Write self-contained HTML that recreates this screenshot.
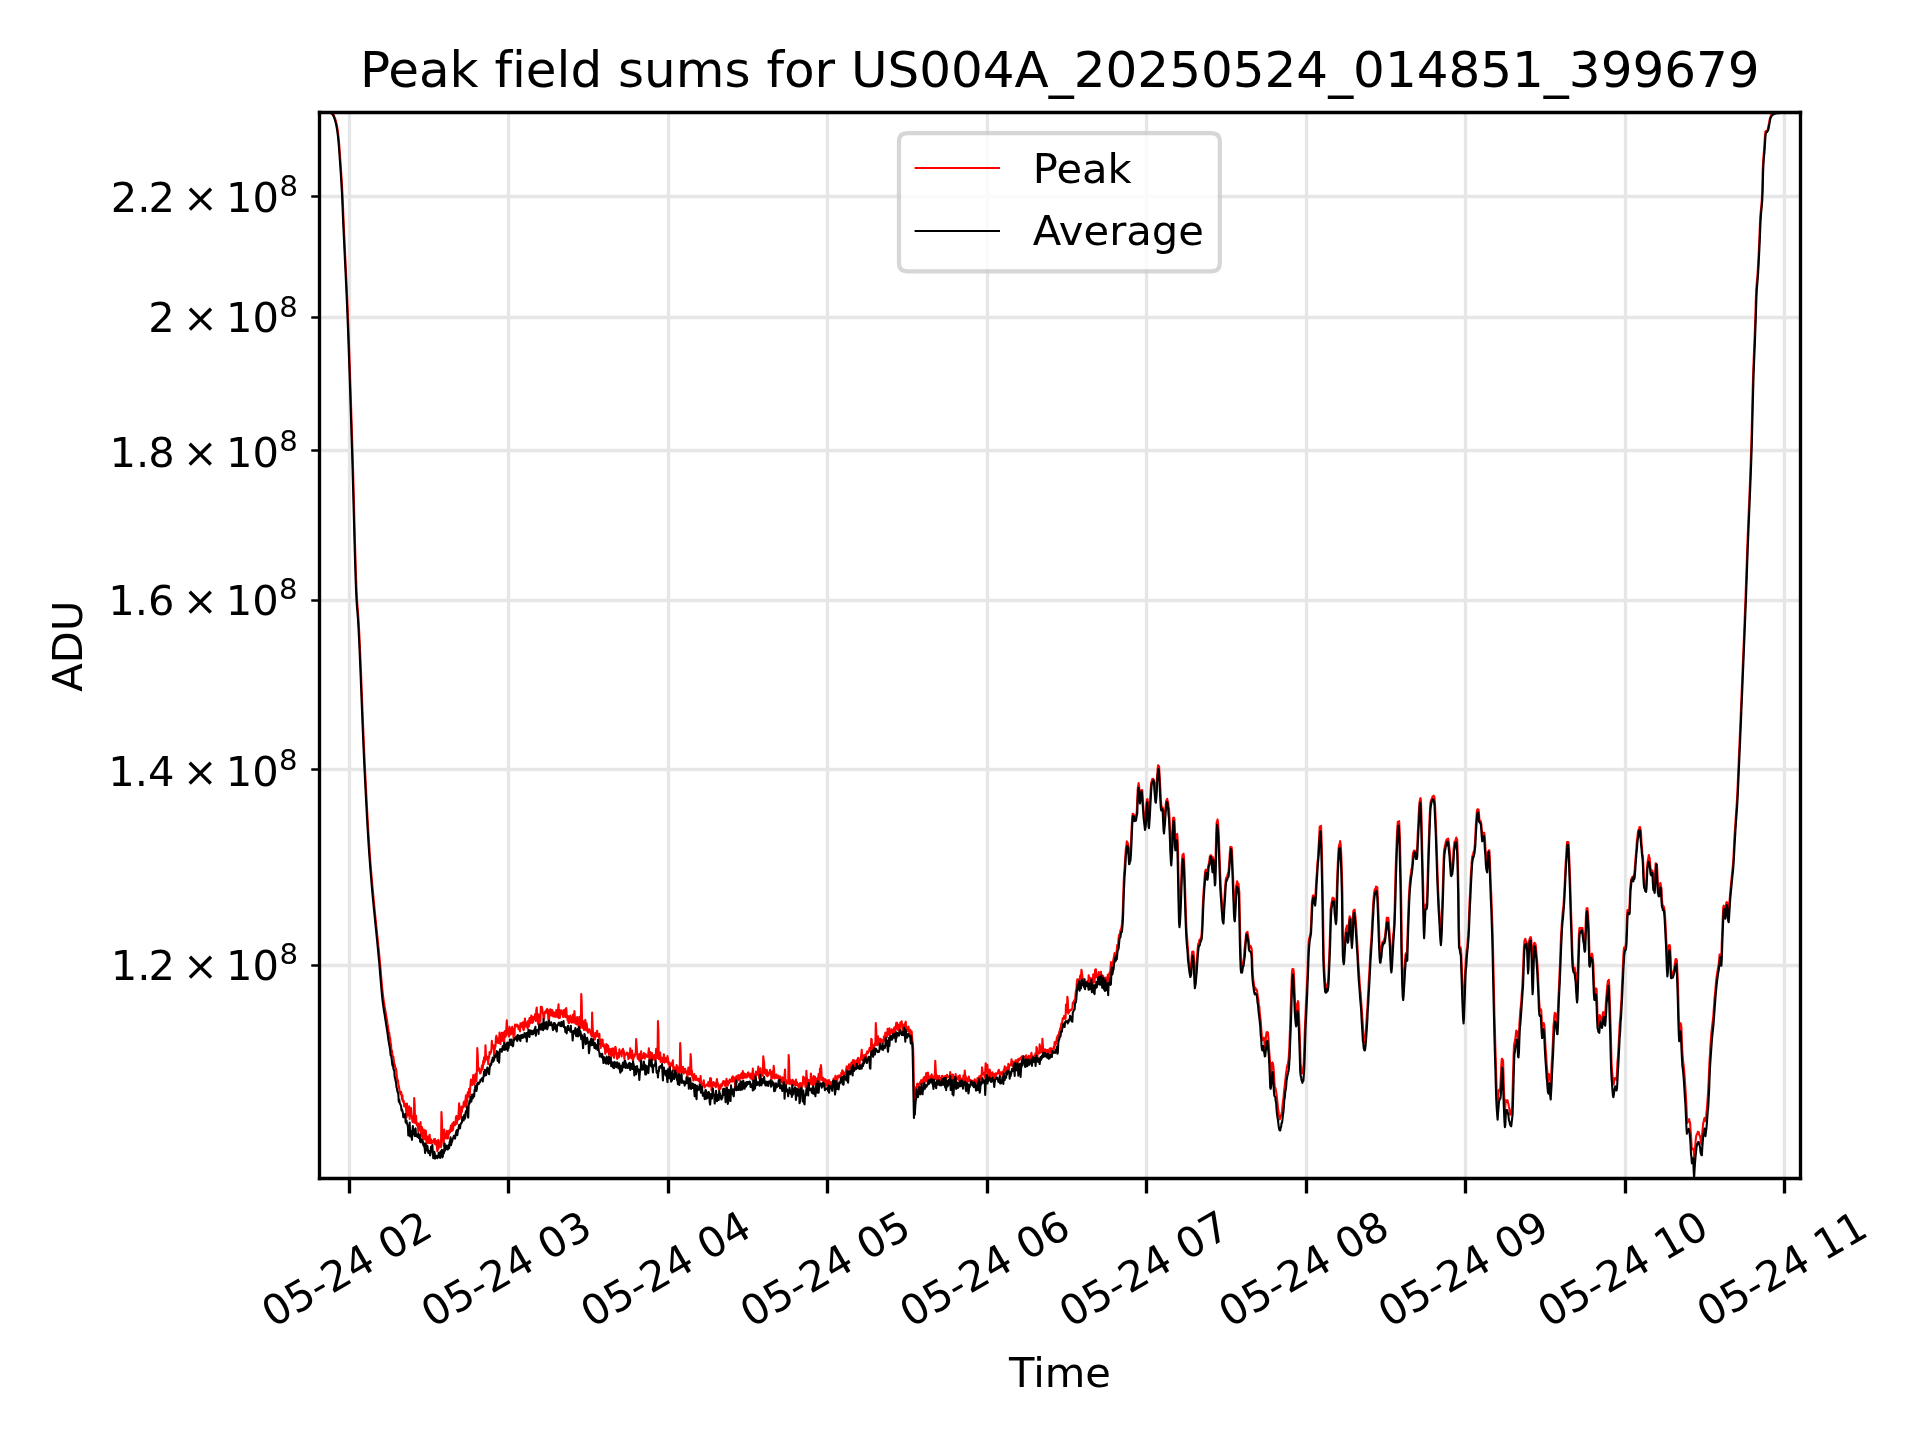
<!DOCTYPE html>
<html lang="en"><head><meta charset="utf-8"><title>Peak field sums for US004A_20250524_014851_399679</title>
<style>html,body{margin:0;padding:0;background:#fff;width:1920px;height:1440px;overflow:hidden}svg{display:block;will-change:transform}text{font-family:"DejaVu Sans","Liberation Sans",sans-serif;fill:#000;font-size:41.667px;font-variant-ligatures:none;font-feature-settings:"liga" 0,"clig" 0}.g{stroke:#e6e6e6;stroke-width:3.333;fill:none}.s{stroke:#000;stroke-width:3.333;stroke-linecap:square;fill:none}.t{stroke:#000;stroke-width:3.333;fill:none}.m{stroke:#000;stroke-width:2.5;fill:none}.c{fill:none;stroke-width:2.083;stroke-linejoin:round;stroke-linecap:square}.sup{font-size:29.167px}</style></head><body>
<svg width="1920" height="1440" viewBox="0 0 1920 1440">
<rect width="1920" height="1440" fill="#fff"/>
<defs><clipPath id="ax"><rect x="318.9" y="112.35" width="1481" height="1065.95"/></clipPath></defs>
<g class="g" clip-path="url(#ax)">
<path d="M349.5 112.5V1178.5"/>
<path d="M508.5 112.5V1178.5"/>
<path d="M668.5 112.5V1178.5"/>
<path d="M827.5 112.5V1178.5"/>
<path d="M987.5 112.5V1178.5"/>
<path d="M1146.5 112.5V1178.5"/>
<path d="M1306.5 112.5V1178.5"/>
<path d="M1465.5 112.5V1178.5"/>
<path d="M1625.5 112.5V1178.5"/>
<path d="M1784.5 112.5V1178.5"/>
<path d="M319.5 965.5H1800.5"/>
<path d="M319.5 769.5H1800.5"/>
<path d="M319.5 600.5H1800.5"/>
<path d="M319.5 450.5H1800.5"/>
<path d="M319.5 317.5H1800.5"/>
<path d="M319.5 196.5H1800.5"/>
</g>
<g clip-path="url(#ax)">
<path class="c" stroke="#f00" d="M318.9 112.9L319.35 112.9L319.81 112.9L320.26 112.9L320.72 112.9L321.17 112.9L321.62 112.9L322.08 112.9L322.53 112.9L322.98 112.9L323.44 112.9L323.89 112.9L324.35 112.9L324.8 112.9L325.25 112.9L325.71 112.9L326.16 112.9L326.62 112.9L327.07 112.9L327.52 112.9L327.98 112.9L328.43 112.9L328.89 112.9L329.34 112.9L329.79 112.9L330.25 112.9L330.7 112.9L331.15 112.9L331.61 112.9L332.06 113.18L332.52 113.53L332.97 113.87L333.42 114.43L333.88 115.38L334.33 116.56L334.79 117.69L335.24 118.93L335.69 120.44L336.15 122.2L336.6 124.17L337.06 126.44L337.51 129L337.96 132.34L338.42 136.2L338.87 140.59L339.32 145.83L339.78 152.17L340.23 158.46L340.69 165.09L341.14 171.73L341.59 178.79L342.05 186.36L342.5 194.71L342.96 205.32L343.41 216.54L343.86 226.9L344.32 236.63L344.77 246.26L345.22 255.8L345.68 265.33L346.13 274.63L346.59 284.57L347.04 294.66L347.49 304.72L347.95 315.93L348.4 327.55L348.86 339.92L349.31 352.65L349.76 365.89L350.22 379.55L350.67 393.37L351.13 407.31L351.58 421.44L352.03 435.68L352.49 449.9L352.94 465.08L353.39 481.39L353.85 498.63L354.3 515.85L354.76 533.41L355.21 550.15L355.66 565.38L356.12 578.95L356.57 591L357.03 599.8L357.48 605.84L357.93 611.54L358.39 617.62L358.84 625.18L359.3 633.89L359.75 643.21L360.2 653.25L360.66 663.6L361.11 674.84L361.56 686.46L362.02 698.12L362.47 709.45L362.93 721.03L363.38 732.48L363.83 742.99L364.29 753.39L364.74 763.45L365.2 772.65L365.65 781.5L366.1 790.06L366.56 799.2L367.01 807.51L367.46 816.19L367.92 824.11L368.37 831.92L368.83 839.37L369.28 846.14L369.73 852.95L370.19 859.21L370.64 864.99L371.1 870.89L371.55 876.02L372 881.65L372.46 886.67L372.91 891.41L373.37 896.45L373.82 901.1L374.27 905.72L374.73 910.41L375.18 915.1L375.63 919.25L376.09 923.76L376.54 927.81L377 932.56L377.45 937.21L377.9 941.6L378.36 946.04L378.81 950.39L379.27 954.96L379.72 959.94L380.17 964.62L380.63 969.88L381.08 975.75L381.53 980.62L381.99 986.33L382.44 990.23L382.9 994.76L383.35 997.88L383.8 1001.37L384.26 1003.98L384.71 1006.96L385.17 1009.51L385.62 1011.95L386.07 1014.9L386.53 1018.08L386.98 1019.86L387.44 1023.6L387.89 1026.02L388.34 1028.86L388.8 1033.56L389.25 1032.73L389.7 1036.8L390.16 1038.33L390.61 1042.45L391.07 1045.05L391.52 1052.41L391.97 1050.62L392.43 1054.96L392.88 1056.7L393.34 1056.5L393.79 1060.2L394.24 1064.46L394.7 1064.37L395.15 1066.8L395.61 1069.76L396.06 1068.56L396.51 1072.45L396.97 1077.38L397.42 1080.49L397.87 1079.99L398.33 1083.67L398.78 1086.33L399.24 1088.22L399.69 1092.02L400.14 1092.36L400.6 1094.17L401.05 1091.72L401.51 1094.09L401.96 1099.15L402.41 1095.28L402.87 1101.71L403.32 1100.28L403.77 1100.96L404.23 1106.38L404.68 1103.41L405.14 1103.82L405.59 1105.35L406.04 1108.56L406.5 1117.83L406.95 1103.54L407.41 1110.92L407.86 1111.03L408.31 1115.55L408.77 1112.18L409.22 1106.33L409.68 1118.97L410.13 1112.09L410.58 1110.38L411.04 1108.08L411.49 1114.14L411.94 1116.7L412.4 1121.64L412.85 1122.23L413.31 1118.29L413.76 1122.38L414.21 1098L414.67 1105.29L415.12 1123.02L415.58 1117.53L416.03 1115.64L416.48 1123.76L416.94 1125.42L417.39 1125.55L417.85 1123.24L418.3 1131.88L418.75 1125.4L419.21 1129.88L419.66 1124.15L420.11 1128.9L420.57 1122.06L421.02 1136.35L421.48 1129.63L421.93 1126.95L422.38 1132.01L422.84 1139.58L423.29 1134.54L423.75 1129.53L424.2 1132.68L424.65 1139.2L425.11 1130.87L425.56 1130.31L426.01 1131.57L426.47 1144.37L426.92 1136.85L427.38 1142.66L427.83 1136.59L428.28 1136.62L428.74 1143L429.19 1142.11L429.65 1134.67L430.1 1142.86L430.55 1143.22L431.01 1139.39L431.46 1142.5L431.92 1142.99L432.37 1140.8L432.82 1140.78L433.28 1140.79L433.73 1142.4L434.18 1139.13L434.64 1143.67L435.09 1139.01L435.55 1144.46L436 1144.08L436.45 1141.01L436.91 1147.45L437.36 1151.16L437.82 1149.02L438.27 1139.78L438.72 1148.48L439.18 1144.65L439.63 1143.42L440.09 1141.23L440.54 1142.84L440.99 1147.17L441.45 1112L441.9 1120.44L442.35 1138.78L442.81 1139.16L443.26 1142.09L443.72 1145.98L444.17 1129.42L444.62 1133.78L445.08 1136.83L445.53 1135.02L445.99 1138.41L446.44 1138.33L446.89 1130.91L447.35 1131.55L447.8 1138.56L448.25 1134.83L448.71 1134.82L449.16 1130.54L449.62 1130.22L450.07 1132.39L450.52 1128.33L450.98 1125.45L451.43 1128.58L451.89 1131.01L452.34 1123.56L452.79 1130.14L453.25 1128.2L453.7 1122.03L454.16 1124.37L454.61 1123.5L455.06 1125.16L455.52 1124.56L455.97 1116.91L456.42 1116.01L456.88 1123.63L457.33 1119.64L457.79 1119.94L458.24 1118.84L458.69 1111.59L459.15 1103.19L459.6 1119L460.06 1111.34L460.51 1115.9L460.96 1117.12L461.42 1106.45L461.87 1111.8L462.33 1108.34L462.78 1107.24L463.23 1107.36L463.69 1102.36L464.14 1101.57L464.59 1106.27L465.05 1105.83L465.5 1099.65L465.96 1095.34L466.41 1107.78L466.86 1102.29L467.32 1098.51L467.77 1092.34L468.23 1092.75L468.68 1094.51L469.13 1088.91L469.59 1096.94L470.04 1090.38L470.49 1084.77L470.95 1079.45L471.4 1082.93L471.86 1082.2L472.31 1084.96L472.76 1081.93L473.22 1074.94L473.67 1077.4L474.13 1080.89L474.58 1084.61L475.03 1077.6L475.49 1073.77L475.94 1076.61L476.4 1081.22L476.85 1073.03L477.3 1048L477.76 1055.27L478.21 1070.53L478.66 1070.01L479.12 1068.35L479.57 1069.79L480.03 1073.4L480.48 1073.26L480.93 1071.93L481.39 1071.02L481.84 1065.93L482.3 1065.13L482.75 1069.25L483.2 1060.91L483.66 1064.43L484.11 1057.26L484.57 1062.15L485.02 1060.41L485.47 1045.32L485.93 1053.88L486.38 1058.69L486.83 1059.47L487.29 1059.29L487.74 1056.92L488.2 1064.17L488.65 1056.46L489.1 1058.24L489.56 1051.95L490.01 1054.04L490.47 1053.43L490.92 1052.22L491.37 1049.86L491.83 1040.77L492.28 1046.75L492.73 1047.8L493.19 1046.86L493.64 1045.23L494.1 1055.22L494.55 1051.24L495 1046.81L495.46 1046.79L495.91 1037.85L496.37 1035.69L496.82 1037.93L497.27 1042.73L497.73 1038.75L498.18 1038.61L498.64 1042.89L499.09 1041.75L499.54 1032.59L500 1040.15L500.45 1044L500.9 1036.65L501.36 1039.44L501.81 1032.91L502.27 1040.78L502.72 1033.35L503.17 1032.48L503.63 1035.47L504.08 1044.79L504.54 1033.68L504.99 1030.98L505.44 1036.84L505.9 1035.66L506.35 1028.78L506.8 1020.26L507.26 1028.12L507.71 1032.4L508.17 1034.57L508.62 1034.17L509.07 1036.47L509.53 1026.91L509.98 1029L510.44 1031.17L510.89 1034.35L511.34 1032.74L511.8 1029.23L512.25 1026.79L512.71 1033.31L513.16 1033.26L513.61 1039.28L514.07 1028.67L514.52 1034.82L514.97 1024.44L515.43 1026.55L515.88 1025.81L516.34 1026.32L516.79 1024.6L517.24 1025.54L517.7 1027.04L518.15 1025.4L518.61 1029.13L519.06 1026.26L519.51 1026.34L519.97 1031.37L520.42 1023.25L520.88 1023.25L521.33 1025.49L521.78 1025.6L522.24 1027.24L522.69 1022.2L523.14 1028.93L523.6 1030.28L524.05 1028.64L524.51 1022.66L524.96 1018.62L525.41 1022.55L525.87 1024.49L526.32 1026.72L526.78 1023L527.23 1022.42L527.68 1028.71L528.14 1020.82L528.59 1026.78L529.04 1026.05L529.5 1018.01L529.95 1023.5L530.41 1020.38L530.86 1018.83L531.31 1015.47L531.77 1016.27L532.22 1023.03L532.68 1019.98L533.13 1022.06L533.58 1017.11L534.04 1019.44L534.49 1019.33L534.95 1014.56L535.4 1013.84L535.85 1020.89L536.31 1009.68L536.76 1007.55L537.21 1018.02L537.67 1020.36L538.12 1024.12L538.58 1014.3L539.03 1019.24L539.48 1024.17L539.94 1016.71L540.39 1021.31L540.85 1006.9L541.3 1009.83L541.75 1006.68L542.21 1008.67L542.66 1011.91L543.12 1013.84L543.57 1018.9L544.02 1018.75L544.48 1014.38L544.93 1011.82L545.38 1012.75L545.84 1010.55L546.29 1012.74L546.75 1012.48L547.2 1008.75L547.65 1012.67L548.11 1015.1L548.56 1021.87L549.02 1021.34L549.47 1009.84L549.92 1011.81L550.38 1009.2L550.83 1009.67L551.28 1015.56L551.74 1010.21L552.19 1010L552.65 1012.66L553.1 1016.34L553.55 1012.33L554.01 1012.31L554.46 1016.71L554.92 1015.16L555.37 1015.1L555.82 1016.8L556.28 1010.04L556.73 1014.28L557.19 1011.36L557.64 1017.09L558.09 1009.35L558.55 1004.38L559 1018.25L559.45 1009.7L559.91 1017.83L560.36 1014.63L560.82 1011.06L561.27 1010.36L561.72 1013.32L562.18 1014.47L562.63 1012.3L563.09 1016.88L563.54 1010.35L563.99 1015.36L564.45 1015.61L564.9 1009.44L565.36 1017.15L565.81 1012.01L566.26 1008.04L566.72 1014.74L567.17 1016.31L567.62 1020.44L568.08 1015.93L568.53 1022.87L568.99 1022.99L569.44 1022.05L569.89 1017.42L570.35 1015.44L570.8 1017.07L571.26 1021.39L571.71 1022.69L572.16 1020.41L572.62 1018.97L573.07 1014.67L573.52 1022.53L573.98 1021.64L574.43 1011.1L574.89 1017.11L575.34 1023.54L575.79 1020.93L576.25 1024.19L576.7 1024.32L577.16 1016.96L577.61 1021.19L578.06 1024.09L578.52 1025.8L578.97 1027.72L579.43 1016.67L579.88 1023.21L580.33 1026.12L580.79 1028.11L581.24 994L581.69 1002.2L582.15 1023.52L582.6 1021.51L583.06 1028.14L583.51 1021.21L583.96 1030.03L584.42 1029.56L584.87 1028.42L585.33 1019.83L585.78 1025.28L586.23 1030.5L586.69 1023.61L587.14 1028.01L587.6 1028.88L588.05 1032.65L588.5 1031.02L588.96 1031.39L589.41 1029.38L589.86 1031.26L590.32 1031.15L590.77 1034.39L591.23 1031.65L591.68 1036.03L592.13 1012.65L592.59 1025.56L593.04 1032.8L593.5 1037.42L593.95 1034.18L594.4 1037.03L594.86 1039.45L595.31 1032.87L595.76 1035.3L596.22 1034.79L596.67 1036.4L597.13 1030.67L597.58 1035.92L598.03 1036.1L598.49 1034.87L598.94 1037.54L599.4 1033.84L599.85 1044.52L600.3 1042.26L600.76 1047.97L601.21 1039.71L601.67 1039.6L602.12 1045.21L602.57 1039.44L603.03 1046.28L603.48 1043.69L603.93 1045.37L604.39 1047.74L604.84 1047.46L605.3 1053.83L605.75 1050.14L606.2 1044.16L606.66 1051.97L607.11 1044.68L607.57 1049.69L608.02 1045.64L608.47 1047.33L608.93 1054.66L609.38 1048.88L609.84 1048.95L610.29 1049.58L610.74 1050.77L611.2 1056.84L611.65 1048.7L612.1 1048.87L612.56 1055.11L613.01 1048.39L613.47 1052.67L613.92 1057.77L614.37 1054.34L614.83 1052.97L615.28 1046.9L615.74 1047.42L616.19 1052.9L616.64 1055.31L617.1 1058.92L617.55 1058.09L618 1053.23L618.46 1052.76L618.91 1057.36L619.37 1049.39L619.82 1053.83L620.27 1054.23L620.73 1051.77L621.18 1052.18L621.64 1056.47L622.09 1050.16L622.54 1052.54L623 1048.82L623.45 1052.08L623.91 1051.2L624.36 1058.98L624.81 1054.62L625.27 1054.81L625.72 1054.52L626.17 1053.58L626.63 1052.66L627.08 1054.63L627.54 1052.67L627.99 1055.53L628.44 1059.03L628.9 1053.77L629.35 1058.01L629.81 1056.19L630.26 1048.18L630.71 1054.42L631.17 1051.7L631.62 1058.43L632.07 1050.42L632.53 1055.16L632.98 1060.91L633.44 1058.48L633.89 1054.96L634.34 1056.8L634.8 1055.84L635.25 1053.45L635.71 1053.72L636.16 1039L636.61 1044.97L637.07 1051.92L637.52 1057.14L637.98 1058.95L638.43 1057.78L638.88 1054.44L639.34 1060.66L639.79 1053.86L640.24 1059.5L640.7 1062.36L641.15 1051.35L641.61 1058.24L642.06 1058.37L642.51 1058.06L642.97 1055.02L643.42 1056.33L643.88 1053.01L644.33 1057.53L644.78 1058.66L645.24 1055L645.69 1054.15L646.15 1055.43L646.6 1056.74L647.05 1056.87L647.51 1056.32L647.96 1056.76L648.41 1052.62L648.87 1048.37L649.32 1058.21L649.78 1060.53L650.23 1052.13L650.68 1054.31L651.14 1057.13L651.59 1052.79L652.05 1053.14L652.5 1060L652.95 1056.08L653.41 1057.47L653.86 1057.48L654.31 1055.02L654.77 1059.86L655.22 1058.2L655.68 1059.29L656.13 1048.84L656.58 1054.37L657.04 1053.52L657.49 1057.85L657.95 1021L658.4 1030.87L658.85 1059.14L659.31 1055.76L659.76 1057.71L660.22 1052.56L660.67 1061.98L661.12 1059.32L661.58 1057.64L662.03 1059.08L662.48 1058.97L662.94 1062.3L663.39 1058.95L663.85 1054.18L664.3 1057.91L664.75 1062.58L665.21 1060.67L665.66 1057.97L666.12 1061.27L666.57 1060.19L667.02 1062.07L667.48 1056.16L667.93 1058.71L668.39 1063.85L668.84 1061.85L669.29 1064.11L669.75 1069.37L670.2 1063.29L670.65 1065.4L671.11 1063.51L671.56 1063.68L672.02 1065.61L672.47 1061.91L672.92 1060.32L673.38 1070.72L673.83 1066.73L674.29 1070.57L674.74 1067.92L675.19 1068.25L675.65 1070.01L676.1 1070.39L676.55 1065.03L677.01 1072.28L677.46 1066.17L677.92 1069.81L678.37 1076.87L678.82 1069.88L679.28 1074.69L679.73 1069.03L680.19 1043L680.64 1051.26L681.09 1071.79L681.55 1068.26L682 1068.24L682.46 1072.04L682.91 1066.69L683.36 1068.94L683.82 1073.41L684.27 1069.92L684.72 1069.29L685.18 1068.81L685.63 1072.62L686.09 1071.31L686.54 1072.97L686.99 1072.17L687.45 1078.27L687.9 1071.83L688.36 1067.63L688.81 1073.85L689.26 1073.74L689.72 1074.41L690.17 1069.56L690.63 1054L691.08 1060.2L691.53 1074.96L691.99 1070.86L692.44 1077.19L692.89 1076.04L693.35 1080.55L693.8 1075.88L694.26 1073.94L694.71 1078.32L695.16 1075.75L695.62 1080.01L696.07 1076.1L696.53 1079.25L696.98 1079.34L697.43 1080.24L697.89 1079.16L698.34 1078.6L698.79 1081.06L699.25 1079.86L699.7 1082.27L700.16 1081.34L700.61 1075.95L701.06 1082.52L701.52 1086.96L701.97 1084.1L702.43 1085.19L702.88 1085.01L703.33 1082.56L703.79 1080.26L704.24 1086.56L704.7 1087.39L705.15 1086.09L705.6 1085.75L706.06 1085.72L706.51 1084.57L706.96 1085.49L707.42 1084.79L707.87 1085.73L708.33 1082.15L708.78 1083.1L709.23 1086.56L709.69 1084.01L710.14 1078.12L710.6 1085.41L711.05 1078.57L711.5 1090.56L711.96 1087.19L712.41 1087.08L712.87 1083.31L713.32 1082.01L713.77 1084.63L714.23 1085.31L714.68 1083.08L715.13 1085.71L715.59 1087.18L716.04 1086.9L716.5 1082.21L716.95 1078.96L717.4 1085.02L717.86 1083.06L718.31 1086.09L718.77 1089.36L719.22 1089.24L719.67 1085.29L720.13 1087.48L720.58 1088.86L721.03 1084.2L721.49 1084.69L721.94 1086.18L722.4 1083.52L722.85 1082.05L723.3 1081.19L723.76 1083.16L724.21 1081.23L724.67 1085.07L725.12 1081.73L725.57 1086.62L726.03 1085.76L726.48 1078.72L726.94 1085.1L727.39 1080.79L727.84 1085.62L728.3 1083.05L728.75 1081.32L729.2 1083.16L729.66 1079.54L730.11 1081.84L730.57 1081.82L731.02 1080.14L731.47 1081.44L731.93 1077.37L732.38 1081.53L732.84 1076.39L733.29 1081.32L733.74 1080.71L734.2 1081.17L734.65 1077.45L735.11 1087.29L735.56 1078L736.01 1078.87L736.47 1076.16L736.92 1082.08L737.37 1076.61L737.83 1080.53L738.28 1074.98L738.74 1078.32L739.19 1076.29L739.64 1079.78L740.1 1076.25L740.55 1074.53L741.01 1078.06L741.46 1073.36L741.91 1073.89L742.37 1078.55L742.82 1071.1L743.27 1078.28L743.73 1074.94L744.18 1073.4L744.64 1076.49L745.09 1077.45L745.54 1073.97L746 1074.99L746.45 1077.59L746.91 1077.36L747.36 1075.03L747.81 1072.95L748.27 1072.37L748.72 1073.25L749.18 1076.69L749.63 1076.33L750.08 1075.5L750.54 1078.44L750.99 1073.71L751.44 1073.43L751.9 1073.36L752.35 1079.64L752.81 1068.66L753.26 1075.08L753.71 1075.46L754.17 1074.36L754.62 1080.57L755.08 1077.32L755.53 1076.17L755.98 1071.54L756.44 1075.34L756.89 1072.91L757.34 1074.01L757.8 1074.41L758.25 1066.53L758.71 1070.75L759.16 1078.23L759.61 1076.57L760.07 1074.29L760.52 1068.38L760.98 1076.63L761.43 1076.59L761.88 1073.09L762.34 1072.3L762.79 1075.4L763.25 1056.3L763.7 1060L764.15 1063.19L764.61 1071.08L765.06 1073.65L765.51 1069.63L765.97 1073.63L766.42 1075.12L766.88 1070.13L767.33 1076.32L767.78 1072.35L768.24 1075.48L768.69 1074.68L769.15 1072.98L769.6 1072.94L770.05 1069.87L770.51 1072.78L770.96 1072.74L771.42 1079.49L771.87 1077.97L772.32 1071.66L772.78 1077.76L773.23 1076.38L773.68 1065.68L774.14 1070.02L774.59 1078.52L775.05 1075.03L775.5 1076.02L775.95 1077.41L776.41 1074.48L776.86 1077.84L777.32 1077.3L777.77 1075.85L778.22 1075.58L778.68 1078.87L779.13 1080.6L779.58 1079.32L780.04 1076.3L780.49 1080.85L780.95 1079.5L781.4 1080.85L781.85 1082.62L782.31 1077.24L782.76 1079.53L783.22 1078.51L783.67 1077.98L784.12 1085.98L784.58 1074.86L785.03 1069.45L785.49 1082.35L785.94 1079.9L786.39 1084.69L786.85 1082.01L787.3 1081.49L787.75 1082.51L788.21 1083.32L788.66 1055L789.12 1063.09L789.57 1082.33L790.02 1084.19L790.48 1079.86L790.93 1082.99L791.39 1082.76L791.84 1081.86L792.29 1085.24L792.75 1079.87L793.2 1082.44L793.66 1081.21L794.11 1085.05L794.56 1082.41L795.02 1083.87L795.47 1084.85L795.92 1079.59L796.38 1085.17L796.83 1082.01L797.29 1083.4L797.74 1083.84L798.19 1086.38L798.65 1086.24L799.1 1089.06L799.56 1084.85L800.01 1083.15L800.46 1083.13L800.92 1086.28L801.37 1088.87L801.82 1085.55L802.28 1083.15L802.73 1085.42L803.19 1076.56L803.64 1077.67L804.09 1082.58L804.55 1077.74L805 1082.92L805.46 1086.98L805.91 1084.63L806.36 1070.76L806.82 1077.89L807.27 1078.76L807.73 1088.63L808.18 1083.76L808.63 1079.97L809.09 1085.02L809.54 1080.77L809.99 1084.1L810.45 1082.52L810.9 1073.66L811.36 1079.31L811.81 1078.35L812.26 1084.99L812.72 1081.44L813.17 1078.38L813.63 1076.11L814.08 1084.61L814.53 1083.92L814.99 1076.77L815.44 1083.91L815.9 1079.93L816.35 1078.73L816.8 1078.89L817.26 1078.27L817.71 1082.42L818.16 1079.09L818.62 1074.02L819.07 1083.86L819.53 1080.83L819.98 1068.49L820.43 1071.85L820.89 1065L821.34 1069.2L821.8 1080.03L822.25 1079.85L822.7 1078.03L823.16 1077.81L823.61 1082.17L824.06 1080.15L824.52 1086.25L824.97 1079.07L825.43 1083.31L825.88 1081.81L826.33 1080.15L826.79 1085.6L827.24 1082.84L827.7 1080.59L828.15 1082.17L828.6 1085.53L829.06 1080.13L829.51 1086.34L829.97 1084.55L830.42 1082.08L830.87 1085.8L831.33 1086.51L831.78 1083.49L832.23 1082.18L832.69 1085.86L833.14 1084.68L833.6 1078.57L834.05 1079.92L834.5 1079.53L834.96 1078.69L835.41 1075.75L835.87 1081.02L836.32 1078.71L836.77 1078.37L837.23 1081.07L837.68 1076.08L838.14 1076.93L838.59 1077.36L839.04 1075.37L839.5 1075.75L839.95 1077.41L840.4 1075.23L840.86 1077.93L841.31 1072.71L841.77 1074.51L842.22 1070.34L842.67 1072.94L843.13 1071.18L843.58 1075.5L844.04 1073.67L844.49 1072.71L844.94 1075.35L845.4 1074.03L845.85 1071.99L846.3 1068.41L846.76 1066.33L847.21 1069.18L847.67 1068.1L848.12 1067.1L848.57 1067.57L849.03 1064.18L849.48 1070.91L849.94 1064.69L850.39 1065.43L850.84 1067.89L851.3 1062.66L851.75 1068.06L852.21 1067.79L852.66 1061.35L853.11 1060L853.57 1063.72L854.02 1060.33L854.47 1067.28L854.93 1063.98L855.38 1061.9L855.84 1061.21L856.29 1064.21L856.74 1065.98L857.2 1059.43L857.65 1060.67L858.11 1057.69L858.56 1062.81L859.01 1061.3L859.47 1065.67L859.92 1059.97L860.38 1058.91L860.83 1057.94L861.28 1054.3L861.74 1049.72L862.19 1060.12L862.64 1058.62L863.1 1056.55L863.55 1055.28L864.01 1059.29L864.46 1060.72L864.91 1055.13L865.37 1056.93L865.82 1059.25L866.28 1053.52L866.73 1053.93L867.18 1051.32L867.64 1053.29L868.09 1053L868.54 1051.78L869 1050.56L869.45 1048.14L869.91 1048.12L870.36 1048.38L870.81 1051.44L871.27 1038.85L871.72 1039.36L872.18 1049.68L872.63 1048.88L873.08 1045.33L873.54 1045.06L873.99 1047.43L874.45 1046.26L874.9 1043.08L875.35 1045.09L875.81 1023L876.26 1030L876.71 1041.54L877.17 1045.2L877.62 1043.91L878.08 1036.39L878.53 1041.6L878.98 1044.24L879.44 1038.96L879.89 1046.21L880.35 1038.91L880.8 1039.2L881.25 1040.32L881.71 1042.57L882.16 1041.91L882.61 1040.12L883.07 1043.18L883.52 1040.72L883.98 1036.24L884.43 1040.45L884.88 1039.29L885.34 1032.63L885.79 1037.04L886.25 1035.19L886.7 1037.39L887.15 1036.93L887.61 1028.83L888.06 1029.4L888.52 1034.58L888.97 1034.21L889.42 1028.19L889.88 1035.83L890.33 1033.15L890.78 1032.55L891.24 1032.74L891.69 1029.23L892.15 1030.98L892.6 1033.03L893.05 1032.69L893.51 1030.88L893.96 1028.82L894.42 1027.24L894.87 1031.85L895.32 1029.72L895.78 1027.22L896.23 1022.89L896.69 1025.56L897.14 1022.82L897.59 1029.83L898.05 1027.11L898.5 1024.68L898.95 1025.51L899.41 1031.93L899.86 1028.54L900.32 1022.45L900.77 1025.12L901.22 1022.47L901.68 1021.27L902.13 1025.65L902.59 1030.85L903.04 1028.87L903.49 1025.38L903.95 1024.49L904.4 1025.95L904.85 1028.05L905.31 1022.44L905.76 1021.72L906.22 1030.72L906.67 1027.28L907.12 1030.69L907.58 1027.84L908.03 1031.09L908.49 1026.6L908.94 1029.66L909.39 1032.75L909.85 1032.3L910.3 1029.78L910.76 1034.06L911.21 1031.69L911.66 1031.34L912.12 1037.69L912.57 1042.51L913.02 1045.64L913.48 1059.73L913.93 1092.12L914.39 1099.32L914.84 1094L915.29 1087.29L915.75 1094.03L916.2 1092.44L916.66 1090.34L917.11 1084.02L917.56 1083.61L918.02 1088.63L918.47 1087.36L918.93 1085.95L919.38 1083.61L919.83 1084.61L920.29 1081.9L920.74 1081.95L921.19 1080.16L921.65 1082.35L922.1 1080.3L922.56 1083.1L923.01 1082.14L923.46 1078.13L923.92 1084.02L924.37 1076.69L924.83 1080.09L925.28 1081.3L925.73 1081.52L926.19 1073.06L926.64 1080.47L927.09 1080.85L927.55 1081.28L928 1072.56L928.46 1076.21L928.91 1077.58L929.36 1076.77L929.82 1081L930.27 1076.22L930.73 1080.74L931.18 1079.17L931.63 1074.39L932.09 1075.49L932.54 1076.73L933 1078.08L933.45 1080.21L933.9 1077.42L934.36 1080.02L934.81 1074.13L935.26 1060.82L935.72 1069.22L936.17 1078.96L936.63 1077.02L937.08 1075.48L937.53 1078.89L937.99 1082.48L938.44 1077.65L938.9 1076.17L939.35 1075.89L939.8 1082.57L940.26 1077.81L940.71 1079.36L941.17 1080.81L941.62 1080.46L942.07 1075.69L942.53 1080.13L942.98 1079.83L943.43 1078.95L943.89 1080.14L944.34 1076.36L944.8 1077.46L945.25 1076.34L945.7 1079.32L946.16 1075.91L946.61 1078.33L947.07 1074.73L947.52 1076.98L947.97 1076.34L948.43 1076.87L948.88 1077.4L949.33 1076.59L949.79 1076.45L950.24 1072L950.7 1079.5L951.15 1075.36L951.6 1076.22L952.06 1074.82L952.51 1079.14L952.97 1074.61L953.42 1077.96L953.87 1079.56L954.33 1080.67L954.78 1079.6L955.24 1078.28L955.69 1074.01L956.14 1079.97L956.6 1079.8L957.05 1079.04L957.5 1079.04L957.96 1077.42L958.41 1076.12L958.87 1080.01L959.32 1080.58L959.77 1075.22L960.23 1079.97L960.68 1078.51L961.14 1080.16L961.59 1078.84L962.04 1080.95L962.5 1080.87L962.95 1080.67L963.41 1075.43L963.86 1080.76L964.31 1079.04L964.77 1070.57L965.22 1076.17L965.67 1075.99L966.13 1081.42L966.58 1083.38L967.04 1078.26L967.49 1081.68L967.94 1080.64L968.4 1081.18L968.85 1076.52L969.31 1081.22L969.76 1080.16L970.21 1081.66L970.67 1080L971.12 1082.63L971.57 1080.76L972.03 1081.78L972.48 1083.46L972.94 1080.72L973.39 1082.69L973.84 1080.94L974.3 1081.69L974.75 1079.27L975.21 1082.38L975.66 1083.48L976.11 1080.44L976.57 1082.53L977.02 1081.7L977.48 1078.13L977.93 1081.57L978.38 1083.86L978.84 1079.5L979.29 1076.18L979.74 1080.41L980.2 1077.9L980.65 1079.61L981.11 1075.14L981.56 1077.46L982.01 1067.41L982.47 1070.42L982.92 1074.29L983.38 1073.03L983.83 1074.65L984.28 1072.71L984.74 1077.66L985.19 1071.86L985.65 1063.33L986.1 1064.11L986.55 1071.37L987.01 1072.58L987.46 1064.98L987.91 1078L988.37 1071.32L988.82 1074.82L989.28 1079.89L989.73 1069.66L990.18 1071.42L990.64 1077.68L991.09 1075.03L991.55 1073.36L992 1074.56L992.45 1072.39L992.91 1074.93L993.36 1078.13L993.81 1073.76L994.27 1074.98L994.72 1077.46L995.18 1079.29L995.63 1073.3L996.08 1075.37L996.54 1073.36L996.99 1073.18L997.45 1073.73L997.9 1073.13L998.35 1070.47L998.81 1069.72L999.26 1072.47L999.72 1074.27L1000.17 1076.54L1000.62 1072.2L1001.08 1072.74L1001.53 1074.34L1001.98 1074.18L1002.44 1071.83L1002.89 1071.59L1003.35 1075.67L1003.8 1070.13L1004.25 1069.36L1004.71 1066.3L1005.16 1070.67L1005.62 1068.62L1006.07 1073.26L1006.52 1067.63L1006.98 1069.9L1007.43 1069.79L1007.88 1071.07L1008.34 1063.83L1008.79 1070.18L1009.25 1066.25L1009.7 1065.68L1010.15 1064.91L1010.61 1064.42L1011.06 1064.24L1011.52 1059.32L1011.97 1065.63L1012.42 1064.29L1012.88 1061.64L1013.33 1063.4L1013.79 1068.59L1014.24 1063.84L1014.69 1061.76L1015.15 1066.35L1015.6 1060.24L1016.05 1061.45L1016.51 1060.24L1016.96 1060.7L1017.42 1062.67L1017.87 1062.06L1018.32 1058.76L1018.78 1059.9L1019.23 1060.15L1019.69 1058.77L1020.14 1059.4L1020.59 1057.59L1021.05 1057.35L1021.5 1058.95L1021.96 1056.26L1022.41 1059.44L1022.86 1057.84L1023.32 1055.99L1023.77 1056.54L1024.22 1056.69L1024.68 1057.28L1025.13 1057.77L1025.59 1056.88L1026.04 1055.21L1026.49 1060.39L1026.95 1059.04L1027.4 1057.07L1027.86 1058.87L1028.31 1057.3L1028.76 1055.81L1029.22 1056.46L1029.67 1062.28L1030.12 1058.28L1030.58 1058.25L1031.03 1054.8L1031.49 1052.81L1031.94 1057.33L1032.39 1056.29L1032.85 1057.64L1033.3 1057.94L1033.76 1056.39L1034.21 1058.4L1034.66 1055.17L1035.12 1055.65L1035.57 1052.93L1036.03 1060.33L1036.48 1047.14L1036.93 1048.1L1037.39 1057.06L1037.84 1052.6L1038.29 1053.58L1038.75 1051.66L1039.2 1053.38L1039.66 1044.37L1040.11 1047.97L1040.56 1052.65L1041.02 1051.46L1041.47 1052.02L1041.93 1052.28L1042.38 1038.71L1042.83 1044.22L1043.29 1053.59L1043.74 1052.37L1044.2 1049.52L1044.65 1052.93L1045.1 1049.22L1045.56 1052.07L1046.01 1051.7L1046.46 1050.38L1046.92 1049.85L1047.37 1050.03L1047.83 1055.05L1048.28 1050.65L1048.73 1050.65L1049.19 1052.6L1049.64 1048.47L1050.1 1050L1050.55 1048.33L1051 1048.4L1051.46 1055.5L1051.91 1049.71L1052.36 1049.06L1052.82 1049.5L1053.27 1050.48L1053.73 1046.8L1054.18 1048.41L1054.63 1042L1055.09 1042.97L1055.54 1045.14L1056 1042.92L1056.45 1041.12L1056.9 1037.29L1057.36 1040.53L1057.81 1035.26L1058.27 1035.15L1058.72 1036.53L1059.17 1031.85L1059.63 1031.62L1060.08 1028.69L1060.53 1028.29L1060.99 1025.65L1061.44 1023.28L1061.9 1024.49L1062.35 1020.81L1062.8 1018.09L1063.26 1018.57L1063.71 1019.02L1064.17 1015.92L1064.62 1018.02L1065.07 1017.4L1065.53 1018.83L1065.98 1004.59L1066.44 1007.96L1066.89 1011.96L1067.34 996.7L1067.8 1000.34L1068.25 1013.61L1068.7 1012.46L1069.16 1011.88L1069.61 1010.55L1070.07 1010.16L1070.52 1010.54L1070.97 1010.12L1071.43 1009.41L1071.88 1009.05L1072.34 1008.49L1072.79 1002.64L1073.24 1003.53L1073.7 1002.83L1074.15 1000.34L1074.6 1002.21L1075.06 999.75L1075.51 994.47L1075.97 990.43L1076.42 989.29L1076.87 982.04L1077.33 979.36L1077.78 981.16L1078.24 979.57L1078.69 982.74L1079.14 979.34L1079.6 980.65L1080.05 976.4L1080.51 975.2L1080.96 978.47L1081.41 969.78L1081.87 972.12L1082.32 975.84L1082.77 979.57L1083.23 978.79L1083.68 983.39L1084.14 979.81L1084.59 983.42L1085.04 987.65L1085.5 982.85L1085.95 983.67L1086.41 982.24L1086.86 981.43L1087.31 981.52L1087.77 980.82L1088.22 984.22L1088.68 975.19L1089.13 979.7L1089.58 982.79L1090.04 977.77L1090.49 980.24L1090.94 978.27L1091.4 982.07L1091.85 983.49L1092.31 985.42L1092.76 981.97L1093.21 974.23L1093.67 977.51L1094.12 980.42L1094.58 982.45L1095.03 969.75L1095.48 977.39L1095.94 969.32L1096.39 977.23L1096.84 975.87L1097.3 975.8L1097.75 977.07L1098.21 975.4L1098.66 971.95L1099.11 975.43L1099.57 978.55L1100.02 974.54L1100.48 975.5L1100.93 971.9L1101.38 980.44L1101.84 975.49L1102.29 975.33L1102.75 976.93L1103.2 976.12L1103.65 978.68L1104.11 984.23L1104.56 982.95L1105.01 985.28L1105.47 985.48L1105.92 977.42L1106.38 981.88L1106.83 985.12L1107.28 987.58L1107.74 974.95L1108.19 974.67L1108.65 980.49L1109.1 976.6L1109.55 972.65L1110.01 975.1L1110.46 968.94L1110.92 962.05L1111.37 966.71L1111.82 965.11L1112.28 964.85L1112.73 964.11L1113.18 960.75L1113.64 958.46L1114.09 956.28L1114.55 953.04L1115 954.39L1115.45 955.82L1115.91 953.67L1116.36 954.34L1116.82 949.06L1117.27 944.88L1117.72 946L1118.18 943.46L1118.63 938.08L1119.08 934.93L1119.54 934.64L1119.99 933.52L1120.45 930.18L1120.9 929.82L1121.35 927.8L1121.81 925.18L1122.26 920.98L1122.72 912.04L1123.17 897.76L1123.62 884.31L1124.08 873.45L1124.53 869.72L1124.99 860.34L1125.44 854.6L1125.89 848.29L1126.35 845.38L1126.8 841.39L1127.25 842.68L1127.71 842.65L1128.16 844.39L1128.62 848.03L1129.07 855.4L1129.52 861.28L1129.98 860.12L1130.43 852.66L1130.89 845.65L1131.34 834.33L1131.79 824.72L1132.25 816.93L1132.7 813.71L1133.15 813.86L1133.61 814.21L1134.06 814.78L1134.52 817.07L1134.97 817.51L1135.42 818.22L1135.88 816.45L1136.33 815.03L1136.79 811.01L1137.24 799.9L1137.69 789.2L1138.15 786.05L1138.6 783.06L1139.06 785.9L1139.51 790.64L1139.96 797.16L1140.42 792.94L1140.87 790.44L1141.32 790.41L1141.78 790.1L1142.23 789.99L1142.69 796.16L1143.14 803.74L1143.59 810.41L1144.05 815.22L1144.5 819.89L1144.96 824.72L1145.41 822.41L1145.86 813.5L1146.32 804.1L1146.77 800.42L1147.23 799.02L1147.68 799.5L1148.13 806.47L1148.59 817.05L1149.04 821L1149.49 811.63L1149.95 804.8L1150.4 794.99L1150.86 786.85L1151.31 782.44L1151.76 780.79L1152.22 779.14L1152.67 780.84L1153.13 778.72L1153.58 779.99L1154.03 780.98L1154.49 782.66L1154.94 789.52L1155.39 795.37L1155.85 796.91L1156.3 788.91L1156.76 780.44L1157.21 774.89L1157.66 768.7L1158.12 765.19L1158.57 766.77L1159.03 766.19L1159.48 772.74L1159.93 780.65L1160.39 788.73L1160.84 798.64L1161.3 805.29L1161.75 807.51L1162.2 807.09L1162.66 807.74L1163.11 808.3L1163.56 817.44L1164.02 826.25L1164.47 822.7L1164.93 816.12L1165.38 808.8L1165.83 803.36L1166.29 800.25L1166.74 800.25L1167.2 798.8L1167.65 801.23L1168.1 802.2L1168.56 806.47L1169.01 808.69L1169.47 816.87L1169.92 827.76L1170.37 836.76L1170.83 851.55L1171.28 858.21L1171.73 847.64L1172.19 835.2L1172.64 826.28L1173.1 817.91L1173.55 817.8L1174 817.5L1174.46 819.55L1174.91 832.84L1175.37 843.68L1175.82 841.5L1176.27 835.08L1176.73 834.63L1177.18 833.83L1177.63 839.55L1178.09 853.83L1178.54 877.05L1179 901.99L1179.45 919.57L1179.9 915.95L1180.36 904.72L1180.81 891.31L1181.27 879.04L1181.72 865.39L1182.17 857.79L1182.63 854.67L1183.08 854.56L1183.54 853.67L1183.99 857.73L1184.44 867.51L1184.9 882.71L1185.35 897.08L1185.8 911.1L1186.26 923.8L1186.71 932.98L1187.17 938.33L1187.62 944.77L1188.07 949.39L1188.53 956.83L1188.98 961.99L1189.44 965.73L1189.89 969.26L1190.34 971.65L1190.8 970.83L1191.25 963.86L1191.71 956.71L1192.16 951.85L1192.61 951.46L1193.07 951.63L1193.52 951.77L1193.97 957.94L1194.43 967.58L1194.88 976.55L1195.34 979.68L1195.79 973.78L1196.24 968.84L1196.7 961.41L1197.15 956.15L1197.61 949.99L1198.06 944.11L1198.51 943.99L1198.97 942.62L1199.42 939.91L1199.87 940.49L1200.33 940.1L1200.78 937.96L1201.24 937.06L1201.69 932.8L1202.14 924.11L1202.6 911.13L1203.05 899.63L1203.51 892.69L1203.96 886.34L1204.41 879.88L1204.87 874.31L1205.32 870.57L1205.78 869.65L1206.23 869.78L1206.68 870.9L1207.14 873.91L1207.59 872.56L1208.04 867.74L1208.5 864.71L1208.95 862.97L1209.41 859.89L1209.86 856.17L1210.31 855.68L1210.77 855.05L1211.22 855.5L1211.68 856.48L1212.13 861.65L1212.58 863.39L1213.04 857.21L1213.49 859.23L1213.95 860.51L1214.4 864.06L1214.85 876.14L1215.31 867.95L1215.76 850.52L1216.21 832.61L1216.67 822.1L1217.12 821.4L1217.58 819.42L1218.03 822.87L1218.48 829.1L1218.94 837.05L1219.39 851.64L1219.85 863.36L1220.3 875.41L1220.75 885.73L1221.21 892.59L1221.66 899.28L1222.11 907L1222.57 913.34L1223.02 920.21L1223.48 915.96L1223.93 907.06L1224.38 899.15L1224.84 891.92L1225.29 885.18L1225.75 879.74L1226.2 877.61L1226.65 878.99L1227.11 877.51L1227.56 874.51L1228.02 872.94L1228.47 871.43L1228.92 867.16L1229.38 860.58L1229.83 852.86L1230.28 846.74L1230.74 847.52L1231.19 847.6L1231.65 847.2L1232.1 852.27L1232.55 862.98L1233.01 874.68L1233.46 886.57L1233.92 899.97L1234.37 909.2L1234.82 914.84L1235.28 904.5L1235.73 892.52L1236.19 885.49L1236.64 884.44L1237.09 881.24L1237.55 882.72L1238 884.8L1238.45 883.62L1238.91 887.66L1239.36 892.53L1239.82 915.66L1240.27 938.64L1240.72 953.12L1241.18 964.74L1241.63 969.41L1242.09 967.78L1242.54 965.57L1242.99 963.68L1243.45 960.73L1243.9 957.58L1244.35 951.27L1244.81 946.29L1245.26 943.37L1245.72 937.53L1246.17 933.09L1246.62 932.54L1247.08 932.82L1247.53 931.84L1247.99 936.1L1248.44 937.68L1248.89 941.72L1249.35 947.05L1249.8 945.51L1250.26 947.94L1250.71 946.12L1251.16 947.24L1251.62 948.64L1252.07 954.43L1252.52 967.69L1252.98 976.19L1253.43 981L1253.89 983.5L1254.34 986.72L1254.79 987.4L1255.25 989.86L1255.7 988.37L1256.16 990.2L1256.61 989.58L1257.06 990.57L1257.52 995.01L1257.97 998.05L1258.42 999.93L1258.88 1005.7L1259.33 1006.59L1259.79 1013.26L1260.24 1016.79L1260.69 1020.36L1261.15 1027.19L1261.6 1032.85L1262.06 1040.31L1262.51 1040.09L1262.96 1040.03L1263.42 1039.32L1263.87 1037.68L1264.33 1041.1L1264.78 1048.07L1265.23 1044.33L1265.69 1039.98L1266.14 1035.43L1266.59 1032.22L1267.05 1032.64L1267.5 1031.99L1267.96 1032.76L1268.41 1037.89L1268.86 1045.62L1269.32 1052.24L1269.77 1057.3L1270.23 1067.62L1270.68 1077.99L1271.13 1074.23L1271.59 1067.84L1272.04 1062.87L1272.5 1062.45L1272.95 1063.79L1273.4 1066.57L1273.86 1072.37L1274.31 1080.52L1274.76 1087.39L1275.22 1087.71L1275.67 1088.64L1276.13 1091.63L1276.58 1094.59L1277.03 1098.28L1277.49 1102.55L1277.94 1108.12L1278.4 1110.38L1278.85 1114.93L1279.3 1116.49L1279.76 1119.42L1280.21 1117.77L1280.66 1116.94L1281.12 1114.7L1281.57 1113.3L1282.03 1111.21L1282.48 1106.15L1282.93 1101.26L1283.39 1099.28L1283.84 1093.71L1284.3 1089.68L1284.75 1085.24L1285.2 1081.56L1285.66 1076.98L1286.11 1072.96L1286.57 1070.06L1287.02 1066.51L1287.47 1064.96L1287.93 1063.29L1288.38 1060.69L1288.83 1056.57L1289.29 1047.97L1289.74 1036.01L1290.2 1024.34L1290.65 1009.64L1291.1 997.01L1291.56 982.96L1292.01 971.59L1292.47 969.02L1292.92 969L1293.37 969.17L1293.83 972.41L1294.28 983.3L1294.74 995.43L1295.19 1007.55L1295.64 1011.68L1296.1 1017.35L1296.55 1009.55L1297 1003.94L1297.46 1003.73L1297.91 1001.05L1298.37 1002.63L1298.82 1013.06L1299.27 1022.95L1299.73 1033.33L1300.18 1048.18L1300.64 1064.45L1301.09 1066.84L1301.54 1070.74L1302 1073.56L1302.45 1073.19L1302.9 1071.3L1303.36 1067.92L1303.81 1061.22L1304.27 1048.81L1304.72 1033.8L1305.17 1020.57L1305.63 1012.1L1306.08 1000.9L1306.54 994.52L1306.99 983.02L1307.44 973.42L1307.9 959.22L1308.35 948.15L1308.81 940.95L1309.26 937.88L1309.71 936.83L1310.17 934.7L1310.62 932.04L1311.07 923L1311.53 910.88L1311.98 900.79L1312.44 898.49L1312.89 895.47L1313.34 895.66L1313.8 895.53L1314.25 896.27L1314.71 898.11L1315.16 899.53L1315.61 891.52L1316.07 884.13L1316.52 876.98L1316.98 871.13L1317.43 862.38L1317.88 859.46L1318.34 849.97L1318.79 843.57L1319.24 835.43L1319.7 826.55L1320.15 827.8L1320.61 828.84L1321.06 825.71L1321.51 838.83L1321.97 855.1L1322.42 876.9L1322.88 899.36L1323.33 929.76L1323.78 957.65L1324.24 967.41L1324.69 975.88L1325.14 983.74L1325.6 990.44L1326.05 988.45L1326.51 987.77L1326.96 986.1L1327.41 984.13L1327.87 982.74L1328.32 977.35L1328.78 966.44L1329.23 955.77L1329.68 943.14L1330.14 928.95L1330.59 909.95L1331.05 906.31L1331.5 903.17L1331.95 900.79L1332.41 898.22L1332.86 897.54L1333.31 898.36L1333.77 898.75L1334.22 898.6L1334.68 903.14L1335.13 910.57L1335.58 917.28L1336.04 916.06L1336.49 901.99L1336.95 885.24L1337.4 873.31L1337.85 861.77L1338.31 852.86L1338.76 847.09L1339.22 844.84L1339.67 843.61L1340.12 841.08L1340.58 843.61L1341.03 849.51L1341.48 860.27L1341.94 874.25L1342.39 891.62L1342.85 933.63L1343.3 953.18L1343.75 958.83L1344.21 950.06L1344.66 943.16L1345.12 937.44L1345.57 931.65L1346.02 928.31L1346.48 927.89L1346.93 925.5L1347.38 930.47L1347.84 934.78L1348.29 933.85L1348.75 925.23L1349.2 918.83L1349.65 916.27L1350.11 919.1L1350.56 917.87L1351.02 923.33L1351.47 932.83L1351.92 940.49L1352.38 930.84L1352.83 919.3L1353.29 911.17L1353.74 910.23L1354.19 909.85L1354.65 909.57L1355.1 913.73L1355.55 918.21L1356.01 923.73L1356.46 929.82L1356.92 937.07L1357.37 944.9L1357.82 953.28L1358.28 962.05L1358.73 968.49L1359.19 975.38L1359.64 982.87L1360.09 988.74L1360.55 992.44L1361 998.4L1361.46 1005.01L1361.91 1010.55L1362.36 1018.15L1362.82 1024.56L1363.27 1034.37L1363.72 1037.9L1364.18 1040.72L1364.63 1042.81L1365.09 1038.84L1365.54 1034.24L1365.99 1027.78L1366.45 1022.55L1366.9 1013.94L1367.36 1008.66L1367.81 999.29L1368.26 992.18L1368.72 982.09L1369.17 974.68L1369.62 966.87L1370.08 957.87L1370.53 949.4L1370.99 943.9L1371.44 937.95L1371.89 928.23L1372.35 919.05L1372.8 911.2L1373.26 901.85L1373.71 897.24L1374.16 892.59L1374.62 889.81L1375.07 888.91L1375.53 889.46L1375.98 886.46L1376.43 886.91L1376.89 886.93L1377.34 887.49L1377.79 897.26L1378.25 907.86L1378.7 919.43L1379.16 932.52L1379.61 945.15L1380.06 951.54L1380.52 956.52L1380.97 952.13L1381.43 948.42L1381.88 945.61L1382.33 942.38L1382.79 941.46L1383.24 941.54L1383.69 942.02L1384.15 939.16L1384.6 939.2L1385.06 935.59L1385.51 931.12L1385.96 927.23L1386.42 921.12L1386.87 917.66L1387.33 918.68L1387.78 917.95L1388.23 917.76L1388.69 921.19L1389.14 927.45L1389.6 933.44L1390.05 941.06L1390.5 950.24L1390.96 961.36L1391.41 966.07L1391.86 958.81L1392.32 949.47L1392.77 941.37L1393.23 933.92L1393.68 931.79L1394.13 922.75L1394.59 911L1395.04 893.82L1395.5 873.56L1395.95 860.75L1396.4 848.91L1396.86 836.9L1397.31 827.22L1397.77 821.85L1398.22 822.58L1398.67 821.76L1399.13 821.07L1399.58 828.88L1400.03 842.16L1400.49 863.73L1400.94 885.24L1401.4 912.21L1401.85 948.04L1402.3 966.87L1402.76 982.57L1403.21 991.43L1403.67 984.13L1404.12 975.27L1404.57 969.17L1405.03 961.42L1405.48 954.59L1405.93 953.01L1406.39 953.39L1406.84 955.67L1407.3 941.19L1407.75 928.69L1408.2 914.96L1408.66 902.52L1409.11 892.1L1409.57 885.94L1410.02 880.24L1410.47 876.14L1410.93 873.87L1411.38 869.32L1411.84 868.16L1412.29 864.49L1412.74 855.73L1413.2 852.79L1413.65 851.2L1414.1 850.48L1414.56 850.44L1415.01 850.92L1415.47 852.4L1415.92 854.01L1416.37 856.51L1416.83 854.13L1417.28 846.01L1417.74 833.14L1418.19 825.7L1418.64 815.17L1419.1 807.82L1419.55 801.99L1420.01 799.79L1420.46 797.97L1420.91 799.83L1421.37 811.99L1421.82 830.83L1422.27 851.18L1422.73 869.04L1423.18 885.77L1423.64 907.34L1424.09 924.74L1424.54 915.59L1425 907.52L1425.45 905.35L1425.91 904.36L1426.36 904.58L1426.81 902.87L1427.27 890.46L1427.72 873.77L1428.17 856.43L1428.63 843.94L1429.08 832.5L1429.54 818.26L1429.99 809.95L1430.44 803.03L1430.9 801.15L1431.35 799.4L1431.81 798.83L1432.26 797.31L1432.71 796.41L1433.17 796.38L1433.62 795.65L1434.08 796.3L1434.53 797.62L1434.98 803.76L1435.44 813.38L1435.89 824L1436.34 836.76L1436.8 849.12L1437.25 863.5L1437.71 877.69L1438.16 889.71L1438.61 898.81L1439.07 907.86L1439.52 915.92L1439.98 923.7L1440.43 931.87L1440.88 939.06L1441.34 929.35L1441.79 916.66L1442.25 901.98L1442.7 890.91L1443.15 874.2L1443.61 859.43L1444.06 851.03L1444.51 848.55L1444.97 845.35L1445.42 843.79L1445.88 841.26L1446.33 840.48L1446.78 839.31L1447.24 839.88L1447.69 840.41L1448.15 838.51L1448.6 840.61L1449.05 844.54L1449.51 848.85L1449.96 852.91L1450.41 859.93L1450.87 866.18L1451.32 872.51L1451.78 871.45L1452.23 868.61L1452.68 865.32L1453.14 858.87L1453.59 848.93L1454.05 845.8L1454.5 841.56L1454.95 841.56L1455.41 840.68L1455.86 838.76L1456.32 837.46L1456.77 838.91L1457.22 839.82L1457.68 853.17L1458.13 872.21L1458.58 891.81L1459.04 928.74L1459.49 946.83L1459.95 947.98L1460.4 947.11L1460.85 948.73L1461.31 953.61L1461.76 966.11L1462.22 980.15L1462.67 991.63L1463.12 1004.55L1463.58 1011.44L1464.03 999.5L1464.49 988.17L1464.94 974.64L1465.39 967.26L1465.85 959.21L1466.3 955.09L1466.75 949.28L1467.21 948.07L1467.66 940.78L1468.12 935.68L1468.57 928.05L1469.02 916.42L1469.48 902.48L1469.93 895.15L1470.39 885.91L1470.84 874.81L1471.29 868.35L1471.75 861.04L1472.2 856.87L1472.65 855.28L1473.11 853.83L1473.56 851.93L1474.02 853.41L1474.47 848.48L1474.92 842.78L1475.38 835.01L1475.83 825.16L1476.29 820.03L1476.74 812.92L1477.19 809.59L1477.65 809.22L1478.1 809.49L1478.56 809.54L1479.01 813.73L1479.46 820.09L1479.92 820.33L1480.37 820.76L1480.82 821.31L1481.28 823.75L1481.73 828.88L1482.19 835.59L1482.64 834.23L1483.09 833.66L1483.55 832.84L1484 832.54L1484.46 833.9L1484.91 838.17L1485.36 847.4L1485.82 853.42L1486.27 859.13L1486.73 866.6L1487.18 865.63L1487.63 857.2L1488.09 852.5L1488.54 851.05L1488.99 850.21L1489.45 850.74L1489.9 858.79L1490.36 871.94L1490.81 884.19L1491.26 894.08L1491.72 906.92L1492.17 918.57L1492.63 932.56L1493.08 951.57L1493.53 971.2L1493.99 991.78L1494.44 1014.61L1494.89 1029.04L1495.35 1046.77L1495.8 1059.9L1496.26 1076.43L1496.71 1091.81L1497.16 1100.41L1497.62 1103.52L1498.07 1098.11L1498.53 1092.11L1498.98 1089.88L1499.43 1090.4L1499.89 1091.08L1500.34 1086.05L1500.8 1077.96L1501.25 1066.15L1501.7 1059.22L1502.16 1058.72L1502.61 1060.26L1503.06 1060.17L1503.52 1073.68L1503.97 1090.97L1504.43 1100.31L1504.88 1112.58L1505.33 1105.79L1505.79 1100.29L1506.24 1101.43L1506.7 1100.38L1507.15 1101.66L1507.6 1100.27L1508.06 1103.16L1508.51 1104.09L1508.96 1106.9L1509.42 1109.1L1509.87 1114.09L1510.33 1114.78L1510.78 1114.82L1511.23 1113L1511.69 1109.92L1512.14 1106.7L1512.6 1090.39L1513.05 1074.03L1513.5 1057.69L1513.96 1046.01L1514.41 1042.66L1514.87 1041.2L1515.32 1038.5L1515.77 1035.3L1516.23 1030.51L1516.68 1031.64L1517.13 1031.66L1517.59 1033.35L1518.04 1040.27L1518.5 1044.08L1518.95 1033.77L1519.4 1024.64L1519.86 1016.79L1520.31 1010.68L1520.77 1006.85L1521.22 1001.58L1521.67 994.73L1522.13 988.72L1522.58 980.44L1523.04 970.02L1523.49 957.25L1523.94 946.96L1524.4 941.61L1524.85 939.79L1525.3 938.8L1525.76 940.62L1526.21 941.05L1526.67 942.35L1527.12 944.57L1527.57 946.45L1528.03 960.86L1528.48 949.89L1528.94 942.42L1529.39 939.7L1529.84 938.28L1530.3 937.29L1530.75 937.15L1531.2 939.05L1531.66 945.06L1532.11 957.66L1532.57 980.73L1533.02 967.34L1533.47 951.91L1533.93 943.85L1534.38 942.76L1534.84 943.05L1535.29 943.52L1535.74 945.19L1536.2 950.34L1536.65 956.06L1537.11 960.29L1537.56 966.4L1538.01 974.24L1538.47 984.98L1538.92 995.81L1539.37 1003.72L1539.83 1010.85L1540.28 1010.67L1540.74 1009.13L1541.19 1009.92L1541.64 1017.67L1542.1 1027.56L1542.55 1025.65L1543.01 1024.16L1543.46 1023.06L1543.91 1023.39L1544.37 1025.8L1544.82 1032.53L1545.28 1043.62L1545.73 1050.22L1546.18 1055.35L1546.64 1064.09L1547.09 1069.07L1547.54 1074.15L1548 1081.38L1548.45 1078.55L1548.91 1074.15L1549.36 1075.95L1549.81 1075.3L1550.27 1079.31L1550.72 1085.05L1551.18 1075.62L1551.63 1065.05L1552.08 1057.22L1552.54 1049.32L1552.99 1039.34L1553.44 1026.38L1553.9 1021.78L1554.35 1015.91L1554.81 1012.69L1555.26 1014.32L1555.71 1013.57L1556.17 1016.53L1556.62 1021.68L1557.08 1024.58L1557.53 1022.21L1557.98 1008.99L1558.44 997.5L1558.89 988.5L1559.35 977.11L1559.8 967.48L1560.25 956.85L1560.71 943.58L1561.16 933.14L1561.61 926.46L1562.07 920.7L1562.52 913.98L1562.98 909.33L1563.43 905.63L1563.88 899.28L1564.34 890.44L1564.79 881.69L1565.25 871.57L1565.7 862.17L1566.15 856.84L1566.61 847.81L1567.06 842.08L1567.52 841.92L1567.97 843.47L1568.42 842.19L1568.88 847.57L1569.33 859.34L1569.78 870.95L1570.24 882.87L1570.69 898.58L1571.15 913.66L1571.6 926.74L1572.05 940.31L1572.51 954.61L1572.96 961.97L1573.42 967.57L1573.87 968.43L1574.32 969.45L1574.78 967.86L1575.23 972.68L1575.68 972.72L1576.14 978.95L1576.59 987.23L1577.05 992.8L1577.5 981.79L1577.95 962.68L1578.41 949.92L1578.86 935.55L1579.32 928.97L1579.77 927.72L1580.22 928.22L1580.68 928.65L1581.13 927.88L1581.59 927.92L1582.04 930.25L1582.49 928.01L1582.95 931.98L1583.4 934.74L1583.85 939.96L1584.31 941.64L1584.76 946.58L1585.22 936.6L1585.67 923.11L1586.12 912.61L1586.58 908.27L1587.03 908.36L1587.49 908.13L1587.94 913.26L1588.39 919.74L1588.85 928.83L1589.3 947.44L1589.76 959.64L1590.21 955.18L1590.66 955.92L1591.12 954.59L1591.57 954.49L1592.02 953.65L1592.48 955.61L1592.93 959.44L1593.39 964.58L1593.84 978.65L1594.29 991.13L1594.75 993.37L1595.2 990.31L1595.66 988.38L1596.11 989.1L1596.56 988.9L1597.02 999.31L1597.47 1014.67L1597.92 1021.37L1598.38 1022.78L1598.83 1025.76L1599.29 1020.73L1599.74 1015.08L1600.19 1016.6L1600.65 1017.46L1601.1 1017.24L1601.56 1020.59L1602.01 1020.71L1602.46 1017.41L1602.92 1012.39L1603.37 1012.06L1603.83 1013.37L1604.28 1012.84L1604.73 1015.92L1605.19 1014.1L1605.64 1007.75L1606.09 999.01L1606.55 995L1607 988.24L1607.46 984.42L1607.91 980.74L1608.36 982.76L1608.82 979.85L1609.27 985.31L1609.73 999.53L1610.18 1012.77L1610.63 1026.23L1611.09 1045.63L1611.54 1062.32L1612 1071.01L1612.45 1074.48L1612.9 1081.26L1613.36 1084.55L1613.81 1084.28L1614.26 1079.27L1614.72 1078.02L1615.17 1079.02L1615.63 1079.09L1616.08 1078.93L1616.53 1080.27L1616.99 1071.57L1617.44 1062.04L1617.9 1057.48L1618.35 1049.8L1618.8 1041.4L1619.26 1032.69L1619.71 1023.89L1620.16 1018.62L1620.62 1012.78L1621.07 1004.88L1621.53 997.75L1621.98 986.06L1622.43 976.98L1622.89 966.55L1623.34 956.11L1623.8 949.39L1624.25 947.31L1624.7 947.22L1625.16 947.34L1625.61 945.66L1626.07 941.63L1626.52 929.69L1626.97 916.84L1627.43 910.22L1627.88 909.98L1628.33 909.91L1628.79 911.28L1629.24 910.25L1629.7 901.28L1630.15 888.6L1630.6 884L1631.06 880.14L1631.51 878.95L1631.97 877.23L1632.42 877.11L1632.87 877.33L1633.33 876.86L1633.78 875.63L1634.23 873.35L1634.69 869.64L1635.14 863.4L1635.6 857.44L1636.05 852.89L1636.5 846.22L1636.96 839.73L1637.41 837.13L1637.87 832.54L1638.32 830.13L1638.77 829.78L1639.23 828.15L1639.68 827L1640.14 827.07L1640.59 829.53L1641.04 833.7L1641.5 842.55L1641.95 847.79L1642.4 853.94L1642.86 855.78L1643.31 863.6L1643.77 874.38L1644.22 884.28L1644.67 884.6L1645.13 887.73L1645.58 887.93L1646.04 887.04L1646.49 878.06L1646.94 868.78L1647.4 863.58L1647.85 860.41L1648.31 858.03L1648.76 855.08L1649.21 857.3L1649.67 857.95L1650.12 863.45L1650.57 868.8L1651.03 870.76L1651.48 870.02L1651.94 870.93L1652.39 870.61L1652.84 873.18L1653.3 882.19L1653.75 887.21L1654.21 890.04L1654.66 885.79L1655.11 874.95L1655.57 863.52L1656.02 863.32L1656.47 863.84L1656.93 864.67L1657.38 872.01L1657.84 882.17L1658.29 890.63L1658.74 892.37L1659.2 893.63L1659.65 890.14L1660.11 883.18L1660.56 883.11L1661.01 886.4L1661.47 888.34L1661.92 899.17L1662.38 903.39L1662.83 906.32L1663.28 906.6L1663.74 906.31L1664.19 907.81L1664.64 910.48L1665.1 917.09L1665.55 925.54L1666.01 934.43L1666.46 943.42L1666.91 953.62L1667.37 965.98L1667.82 961.51L1668.28 952.83L1668.73 945.33L1669.18 945.7L1669.64 945.13L1670.09 946.55L1670.55 955.44L1671 967.25L1671.45 974.25L1671.91 976.81L1672.36 974.62L1672.81 973.53L1673.27 972.19L1673.72 970.72L1674.18 968.48L1674.63 965.46L1675.08 962.41L1675.54 959.13L1675.99 960.19L1676.45 959.29L1676.9 960.39L1677.35 971.39L1677.81 980.08L1678.26 995.41L1678.71 1015.01L1679.17 1028.45L1679.62 1032.1L1680.08 1023.88L1680.53 1023.11L1680.98 1024.09L1681.44 1027.93L1681.89 1042.17L1682.35 1051.47L1682.8 1057.25L1683.25 1062.13L1683.71 1065.73L1684.16 1070.94L1684.62 1076.14L1685.07 1083.22L1685.52 1089.92L1685.98 1097.91L1686.43 1105.98L1686.88 1116.93L1687.34 1122.99L1687.79 1121.79L1688.25 1119.92L1688.7 1120.15L1689.15 1119.18L1689.61 1121.97L1690.06 1122.31L1690.52 1130.07L1690.97 1134.3L1691.42 1143.33L1691.88 1149.54L1692.33 1148.36L1692.79 1149.38L1693.24 1149.36L1693.69 1148.73L1694.15 1159.71L1694.6 1154.68L1695.05 1148.68L1695.51 1142.49L1695.96 1137.48L1696.42 1135.29L1696.87 1134L1697.32 1134.18L1697.78 1131.86L1698.23 1132.75L1698.69 1132.06L1699.14 1133.96L1699.59 1135.66L1700.05 1136.08L1700.5 1138.65L1700.95 1142.37L1701.41 1144.38L1701.86 1137.8L1702.32 1132.43L1702.77 1127.52L1703.22 1123.28L1703.68 1121.59L1704.13 1119.11L1704.59 1117.89L1705.04 1119.81L1705.49 1121.1L1705.95 1120.75L1706.4 1113.78L1706.86 1108.56L1707.31 1103.51L1707.76 1097.28L1708.22 1089.25L1708.67 1080.92L1709.12 1069.11L1709.58 1060.11L1710.03 1053.27L1710.49 1044.93L1710.94 1038.73L1711.39 1033.08L1711.85 1028.53L1712.3 1024.54L1712.76 1021.07L1713.21 1017.21L1713.66 1010.81L1714.12 1004.62L1714.57 998.27L1715.03 993.67L1715.48 988.73L1715.93 982.98L1716.39 978.67L1716.84 975.43L1717.29 972.41L1717.75 969.62L1718.2 966.82L1718.66 964.16L1719.11 960.26L1719.56 954.54L1720.02 954.42L1720.47 954.36L1720.93 954.15L1721.38 956.28L1721.83 940.97L1722.29 929.74L1722.74 918.1L1723.19 907.72L1723.65 905.57L1724.1 906.12L1724.56 906.39L1725.01 909.96L1725.46 912.78L1725.92 906.87L1726.37 902.43L1726.83 902.14L1727.28 902.59L1727.73 905.49L1728.19 912.49L1728.64 915.06L1729.1 908.04L1729.55 900.82L1730 895.42L1730.46 889.87L1730.91 885.44L1731.36 880.16L1731.82 876.22L1732.27 871.91L1732.73 866.93L1733.18 861.32L1733.63 853.87L1734.09 844.58L1734.54 835.92L1735 828.85L1735.45 822.18L1735.9 815.38L1736.36 809.15L1736.81 802.3L1737.27 794.25L1737.72 784.61L1738.17 773.67L1738.63 763.6L1739.08 753.07L1739.53 742.71L1739.99 732.15L1740.44 721.56L1740.9 710.68L1741.35 699.88L1741.8 688.81L1742.26 678.05L1742.71 666.77L1743.17 655.94L1743.62 645.19L1744.07 633.98L1744.53 622.9L1744.98 611.15L1745.43 599.89L1745.89 587.1L1746.34 574.38L1746.8 561.3L1747.25 548.85L1747.7 536.72L1748.16 525.42L1748.61 514.5L1749.07 504.24L1749.52 493.26L1749.97 482.37L1750.43 470.65L1750.88 457.09L1751.34 443.04L1751.79 426.2L1752.24 407.73L1752.7 389.3L1753.15 373.53L1753.6 361.34L1754.06 350.79L1754.51 340.17L1754.97 327.71L1755.42 314.08L1755.87 298.75L1756.33 288.51L1756.78 282.49L1757.24 277.9L1757.69 271.83L1758.14 263.96L1758.6 255.33L1759.05 245.52L1759.5 235.26L1759.96 223.06L1760.41 214.86L1760.87 210.22L1761.32 205.83L1761.77 200.45L1762.23 190.1L1762.68 170.45L1763.14 161.06L1763.59 155L1764.04 149.87L1764.5 143.06L1764.95 136.02L1765.41 131.73L1765.86 131.16L1766.31 131.21L1766.77 131.05L1767.22 130.37L1767.67 129.67L1768.13 127.59L1768.58 125.28L1769.04 123.21L1769.49 120.48L1769.94 118.19L1770.4 117.01L1770.85 115.54L1771.31 115.05L1771.76 114.6L1772.21 113.86L1772.67 113.65L1773.12 113.36L1773.58 113.45L1774.03 113.17L1774.48 113.26L1774.94 113.17L1775.39 112.9L1775.84 112.9L1776.3 112.9L1776.75 112.9L1777.21 112.9L1777.66 112.9L1778.11 112.9L1778.57 112.9L1779.02 112.9L1779.48 112.9L1779.93 112.9L1780.38 112.9L1780.84 112.9L1781.29 112.9L1781.74 112.9L1782.2 112.9L1782.65 112.9L1783.11 112.9L1783.56 112.9L1784.01 112.9L1784.47 112.9L1784.92 112.9L1785.38 112.9L1785.83 112.9L1786.28 112.9L1786.74 112.9L1787.19 112.9L1787.65 112.9L1788.1 112.9L1788.55 112.9L1789.01 112.9L1789.46 112.9L1789.91 112.9L1790.37 112.9L1790.82 112.9L1791.28 112.9L1791.73 112.9L1792.18 112.9L1792.64 112.9L1793.09 112.9L1793.55 112.9L1794 112.9L1794.45 112.9L1794.91 112.9L1795.36 112.9L1795.82 112.9L1796.27 112.9L1796.72 112.9L1797.18 112.9L1797.63 112.9L1798.08 112.9L1798.54 112.9L1798.99 112.9L1799.45 112.9L1799.9 112.9"/>
<path class="c" stroke="#000" d="M318.9 112.9L319.35 112.9L319.81 112.9L320.26 112.9L320.72 112.9L321.17 112.9L321.62 112.9L322.08 112.92L322.53 112.9L322.98 112.9L323.44 112.91L323.89 112.91L324.35 112.9L324.8 112.9L325.25 112.9L325.71 112.92L326.16 112.9L326.62 112.9L327.07 112.9L327.52 112.9L327.98 112.9L328.43 112.9L328.89 112.9L329.34 112.91L329.79 112.92L330.25 113.01L330.7 113.09L331.15 113.39L331.61 113.7L332.06 114.02L332.52 114.34L332.97 115.04L333.42 115.93L333.88 117.02L334.33 118.31L334.79 119.49L335.24 121.01L335.69 122.78L336.15 124.69L336.6 126.97L337.06 129.64L337.51 132.95L337.96 136.74L338.42 141.2L338.87 146.69L339.32 152.72L339.78 159.26L340.23 165.63L340.69 172.22L341.14 179.45L341.59 187.04L342.05 195.38L342.5 205.96L342.96 217.34L343.41 227.58L343.86 237.54L344.32 247.1L344.77 256.61L345.22 266.08L345.68 275.42L346.13 285.21L346.59 295.2L347.04 305.77L347.49 316.75L347.95 328.54L348.4 340.88L348.86 353.77L349.31 367.01L349.76 380.35L350.22 394.24L350.67 408.42L351.13 422.35L351.58 436.75L352.03 451.03L352.49 466.31L352.94 482.67L353.39 499.76L353.85 517.25L354.3 534.57L354.76 551.39L355.21 566.64L355.66 580.47L356.12 592.22L356.57 601.22L357.03 607.65L357.48 612.87L357.93 618.96L358.39 626.52L358.84 635.31L359.3 644.68L359.75 654.73L360.2 665.51L360.66 676.51L361.11 688.12L361.56 699.58L362.02 711.29L362.47 722.57L362.93 734.08L363.38 744.74L363.83 755.11L364.29 765.13L364.74 774.19L365.2 783.33L365.65 792.52L366.1 800.85L366.56 809.45L367.01 817.92L367.46 826.04L367.92 833.71L368.37 841.11L368.83 848.26L369.28 854.8L369.73 860.77L370.19 866.88L370.64 872.64L371.1 878.01L371.55 883.56L372 888.57L372.46 893.9L372.91 898.68L373.37 903.45L373.82 908.04L374.27 912.73L374.73 916.98L375.18 921.63L375.63 926.37L376.09 930.43L376.54 935.43L377 939.52L377.45 944.52L377.9 948.88L378.36 953.88L378.81 958.59L379.27 963.24L379.72 968.87L380.17 974.33L380.63 979.6L381.08 985.06L381.53 990.34L381.99 995.05L382.44 999.72L382.9 1003.11L383.35 1006.57L383.8 1009.53L384.26 1012.49L384.71 1015.16L385.17 1018.44L385.62 1020.91L386.07 1024.17L386.53 1026.87L386.98 1029.62L387.44 1032.89L387.89 1035.84L388.34 1039.28L388.8 1042.05L389.25 1045.07L389.7 1047.03L390.16 1050.23L390.61 1055.21L391.07 1055.53L391.52 1057.6L391.97 1061.61L392.43 1065.36L392.88 1064.23L393.34 1068.21L393.79 1070.03L394.24 1070.78L394.7 1076.94L395.15 1078.32L395.61 1081.13L396.06 1082.49L396.51 1087.38L396.97 1088.34L397.42 1091.74L397.87 1092.35L398.33 1094.37L398.78 1101.69L399.24 1099.64L399.69 1103.16L400.14 1104.12L400.6 1104.77L401.05 1106.12L401.51 1110.38L401.96 1109.43L402.41 1111.12L402.87 1112.83L403.32 1117.18L403.77 1116.98L404.23 1117.22L404.68 1115.48L405.14 1113.99L405.59 1121.9L406.04 1122.85L406.5 1120.43L406.95 1123.31L407.41 1124.84L407.86 1125.79L408.31 1135.51L408.77 1130.45L409.22 1130.07L409.68 1122.64L410.13 1136.41L410.58 1134.65L411.04 1130.99L411.49 1134.63L411.94 1139.82L412.4 1131.63L412.85 1126.12L413.31 1134.06L413.76 1129.31L414.21 1132.83L414.67 1135.88L415.12 1129.23L415.58 1128.44L416.03 1135.88L416.48 1135.8L416.94 1135.51L417.39 1136.88L417.85 1134.84L418.3 1133.51L418.75 1137.95L419.21 1136.2L419.66 1134.85L420.11 1141.6L420.57 1140.57L421.02 1142.53L421.48 1139.18L421.93 1140.78L422.38 1140.47L422.84 1141.45L423.29 1145.19L423.75 1143.07L424.2 1146.96L424.65 1147.55L425.11 1152.94L425.56 1143.89L426.01 1150.91L426.47 1148.72L426.92 1149.46L427.38 1145.93L427.83 1149.16L428.28 1152.95L428.74 1151.01L429.19 1151.82L429.65 1151.13L430.1 1155.51L430.55 1152.58L431.01 1146.87L431.46 1151.4L431.92 1148.2L432.37 1144.97L432.82 1152.8L433.28 1158.23L433.73 1154.95L434.18 1151.84L434.64 1152.71L435.09 1158.59L435.55 1156.09L436 1155.92L436.45 1155.75L436.91 1156.07L437.36 1158.19L437.82 1157.49L438.27 1156.48L438.72 1152.92L439.18 1156.92L439.63 1153.42L440.09 1157.92L440.54 1151.18L440.99 1153.84L441.45 1153.77L441.9 1149.78L442.35 1157.49L442.81 1156.3L443.26 1150.65L443.72 1153.45L444.17 1151.9L444.62 1143.43L445.08 1150.58L445.53 1149.25L445.99 1149.09L446.44 1145.43L446.89 1146.96L447.35 1146.55L447.8 1149.49L448.25 1146.54L448.71 1144.93L449.16 1148.23L449.62 1142.02L450.07 1141.7L450.52 1137.22L450.98 1145.32L451.43 1142.99L451.89 1142.12L452.34 1140.74L452.79 1138.57L453.25 1138.13L453.7 1136.21L454.16 1135.63L454.61 1135.59L455.06 1138.63L455.52 1135.45L455.97 1133.14L456.42 1131.07L456.88 1130.19L457.33 1135.16L457.79 1131.58L458.24 1129.67L458.69 1127.81L459.15 1125.04L459.6 1126.84L460.06 1128.36L460.51 1124.24L460.96 1123.73L461.42 1122.78L461.87 1122.62L462.33 1117.31L462.78 1119.69L463.23 1117.07L463.69 1120.36L464.14 1115.12L464.59 1117.38L465.05 1118.63L465.5 1112.92L465.96 1111.08L466.41 1111.93L466.86 1110.32L467.32 1106.74L467.77 1116.41L468.23 1117.64L468.68 1105.06L469.13 1103.96L469.59 1100.64L470.04 1102.74L470.49 1097.64L470.95 1096.73L471.4 1101.34L471.86 1094.8L472.31 1098.48L472.76 1098.43L473.22 1094.29L473.67 1094.01L474.13 1096.45L474.58 1090.33L475.03 1088.48L475.49 1085.78L475.94 1088.29L476.4 1090.91L476.85 1088.85L477.3 1083.49L477.76 1082.92L478.21 1083L478.66 1084.15L479.12 1082.23L479.57 1082.5L480.03 1081.98L480.48 1079.86L480.93 1079.77L481.39 1079.66L481.84 1078.29L482.3 1078.99L482.75 1081.53L483.2 1077.89L483.66 1076.03L484.11 1071.37L484.57 1075.67L485.02 1069.69L485.47 1070.42L485.93 1075.16L486.38 1074.28L486.83 1071.75L487.29 1067.58L487.74 1070.1L488.2 1068.78L488.65 1071.17L489.1 1074.2L489.56 1068.77L490.01 1065.69L490.47 1063.85L490.92 1065.26L491.37 1063.71L491.83 1060.16L492.28 1061.72L492.73 1057.59L493.19 1061.6L493.64 1060.58L494.1 1059.92L494.55 1055.74L495 1057.35L495.46 1055.32L495.91 1054.2L496.37 1053.8L496.82 1051.16L497.27 1057.81L497.73 1060.87L498.18 1052.31L498.64 1052.8L499.09 1062.73L499.54 1054.55L500 1049.38L500.45 1051.1L500.9 1051.18L501.36 1049.06L501.81 1051.78L502.27 1049.56L502.72 1045.99L503.17 1046.24L503.63 1049.74L504.08 1048.61L504.54 1042.94L504.99 1049.88L505.44 1047.85L505.9 1049.19L506.35 1044.95L506.8 1044.82L507.26 1042.61L507.71 1050.62L508.17 1044.14L508.62 1047.85L509.07 1042.43L509.53 1043.98L509.98 1039.46L510.44 1042.11L510.89 1044.95L511.34 1039.51L511.8 1044.57L512.25 1042.58L512.71 1046.28L513.16 1045.81L513.61 1039.88L514.07 1040.56L514.52 1039.15L514.97 1038.2L515.43 1039.15L515.88 1037.2L516.34 1036.32L516.79 1038.99L517.24 1040.93L517.7 1035.01L518.15 1038.39L518.61 1036.62L519.06 1035.62L519.51 1039.75L519.97 1036.28L520.42 1040.88L520.88 1035.26L521.33 1037.86L521.78 1036.21L522.24 1034.78L522.69 1037.83L523.14 1035.88L523.6 1037.55L524.05 1035.83L524.51 1033.17L524.96 1035.4L525.41 1035.62L525.87 1037.68L526.32 1033.01L526.78 1041.58L527.23 1036.01L527.68 1036.36L528.14 1031.98L528.59 1030.05L529.04 1034.18L529.5 1036.88L529.95 1030.26L530.41 1031.16L530.86 1031.84L531.31 1030.7L531.77 1034.25L532.22 1031.12L532.68 1031.13L533.13 1034.15L533.58 1030.59L534.04 1033.29L534.49 1029.52L534.95 1028.63L535.4 1026.77L535.85 1035.74L536.31 1029.95L536.76 1031.05L537.21 1030.04L537.67 1030.2L538.12 1029.6L538.58 1033.99L539.03 1026.21L539.48 1024.58L539.94 1025.66L540.39 1024.54L540.85 1029.57L541.3 1029.49L541.75 1024.69L542.21 1023.35L542.66 1025.79L543.12 1030.09L543.57 1019.09L544.02 1027.56L544.48 1023.32L544.93 1028.7L545.38 1023.16L545.84 1025.14L546.29 1021.91L546.75 1023.22L547.2 1029.32L547.65 1027.79L548.11 1024.55L548.56 1023.27L549.02 1020.54L549.47 1024.42L549.92 1025.32L550.38 1025.14L550.83 1025.07L551.28 1022.32L551.74 1025.07L552.19 1025.1L552.65 1028.59L553.1 1030.1L553.55 1024.75L554.01 1023.05L554.46 1024.9L554.92 1023.43L555.37 1028.82L555.82 1029.48L556.28 1028.34L556.73 1031.53L557.19 1024.72L557.64 1025.67L558.09 1024.53L558.55 1023.1L559 1022.57L559.45 1024.57L559.91 1023.83L560.36 1026.08L560.82 1025.57L561.27 1022.03L561.72 1026.09L562.18 1022.42L562.63 1024.6L563.09 1025.68L563.54 1021.02L563.99 1027.18L564.45 1027.57L564.9 1026.95L565.36 1031.89L565.81 1031.18L566.26 1032.51L566.72 1033.29L567.17 1027.06L567.62 1029.09L568.08 1025.72L568.53 1029.96L568.99 1029.93L569.44 1029.35L569.89 1028.73L570.35 1031.7L570.8 1025.69L571.26 1031.85L571.71 1031.44L572.16 1031.75L572.62 1040.54L573.07 1036.16L573.52 1030.83L573.98 1033.57L574.43 1033.19L574.89 1032.77L575.34 1028.09L575.79 1034.13L576.25 1036.15L576.7 1035.92L577.16 1033.93L577.61 1029.04L578.06 1036.42L578.52 1033.53L578.97 1026.93L579.43 1035.52L579.88 1030.4L580.33 1031.21L580.79 1033.37L581.24 1039.15L581.69 1034.67L582.15 1036.81L582.6 1041.39L583.06 1048.22L583.51 1042.23L583.96 1040.62L584.42 1034L584.87 1036.03L585.33 1039.7L585.78 1044.2L586.23 1042.93L586.69 1042.59L587.14 1037.82L587.6 1040.33L588.05 1043.05L588.5 1043.02L588.96 1053.23L589.41 1049.93L589.86 1041.48L590.32 1043.8L590.77 1040.06L591.23 1038.45L591.68 1045.33L592.13 1043.7L592.59 1045.04L593.04 1039.3L593.5 1043.53L593.95 1043.09L594.4 1048.03L594.86 1043.04L595.31 1044.72L595.76 1048.74L596.22 1047.53L596.67 1044.93L597.13 1047.1L597.58 1049.87L598.03 1039.77L598.49 1048.44L598.94 1051.26L599.4 1052.54L599.85 1056.55L600.3 1055.75L600.76 1054.15L601.21 1054.98L601.67 1057.25L602.12 1053.88L602.57 1055.96L603.03 1059.34L603.48 1063.03L603.93 1056.94L604.39 1057.68L604.84 1058.81L605.3 1062.71L605.75 1058.81L606.2 1063.78L606.66 1056.55L607.11 1059.29L607.57 1059.56L608.02 1062.94L608.47 1064.06L608.93 1056.42L609.38 1058.61L609.84 1062.88L610.29 1060.12L610.74 1057.78L611.2 1066.17L611.65 1064.82L612.1 1065.15L612.56 1062.42L613.01 1067.45L613.47 1063.7L613.92 1068.14L614.37 1061.96L614.83 1062.26L615.28 1065.69L615.74 1062.88L616.19 1067.32L616.64 1066.05L617.1 1062.33L617.55 1065.55L618 1064.24L618.46 1068.33L618.91 1063.41L619.37 1064.06L619.82 1069.39L620.27 1072.73L620.73 1072L621.18 1065.79L621.64 1066.32L622.09 1070.59L622.54 1065.26L623 1062.53L623.45 1066.09L623.91 1067.2L624.36 1063.07L624.81 1060.44L625.27 1061.14L625.72 1068.02L626.17 1063.41L626.63 1065.46L627.08 1066.66L627.54 1068.03L627.99 1064.95L628.44 1067.74L628.9 1063.23L629.35 1065.03L629.81 1062.91L630.26 1070.08L630.71 1066.33L631.17 1064.04L631.62 1065.39L632.07 1065.9L632.53 1069.03L632.98 1061.48L633.44 1063.4L633.89 1065.66L634.34 1075.43L634.8 1070.25L635.25 1066.75L635.71 1069.56L636.16 1074.13L636.61 1066.51L637.07 1066.11L637.52 1071.46L637.98 1069.08L638.43 1069.71L638.88 1073.21L639.34 1079.94L639.79 1073.27L640.24 1069.41L640.7 1069.8L641.15 1060.61L641.61 1069.59L642.06 1066.74L642.51 1068.81L642.97 1069.59L643.42 1066.07L643.88 1061.45L644.33 1068.33L644.78 1064.51L645.24 1074.54L645.69 1071.79L646.15 1074.32L646.6 1065.85L647.05 1070.71L647.51 1067.38L647.96 1070.2L648.41 1073.05L648.87 1066.38L649.32 1060.16L649.78 1063.17L650.23 1062.06L650.68 1064.39L651.14 1066.32L651.59 1059.27L652.05 1067.16L652.5 1067.68L652.95 1072.43L653.41 1065.65L653.86 1064.98L654.31 1065.82L654.77 1064.29L655.22 1064.09L655.68 1060.54L656.13 1066.17L656.58 1072.55L657.04 1073.08L657.49 1070.94L657.95 1077.53L658.4 1071.26L658.85 1071.64L659.31 1066.71L659.76 1066.78L660.22 1066.15L660.67 1067.57L661.12 1065.93L661.58 1067.25L662.03 1064.03L662.48 1072.59L662.94 1080.46L663.39 1067.91L663.85 1067.51L664.3 1070.27L664.75 1071.03L665.21 1073.8L665.66 1075.39L666.12 1072.57L666.57 1070.83L667.02 1078.22L667.48 1082.09L667.93 1069.25L668.39 1072.38L668.84 1070.94L669.29 1078.26L669.75 1067.24L670.2 1072.04L670.65 1072.94L671.11 1081.71L671.56 1080.96L672.02 1080.4L672.47 1070.74L672.92 1078.83L673.38 1075.6L673.83 1074.62L674.29 1078.92L674.74 1074.27L675.19 1070.64L675.65 1076.59L676.1 1073.05L676.55 1076.12L677.01 1079.76L677.46 1079.78L677.92 1084.26L678.37 1078.48L678.82 1074.21L679.28 1085.06L679.73 1083.09L680.19 1075.81L680.64 1081.51L681.09 1078.06L681.55 1073.76L682 1082.87L682.46 1080.32L682.91 1082.04L683.36 1081.35L683.82 1083.27L684.27 1081.44L684.72 1085.6L685.18 1083.05L685.63 1083.1L686.09 1083.33L686.54 1077.27L686.99 1081.77L687.45 1081.64L687.9 1083.4L688.36 1078.37L688.81 1088.59L689.26 1083.71L689.72 1079.55L690.17 1078.14L690.63 1083.2L691.08 1088.96L691.53 1086.26L691.99 1085.5L692.44 1083.45L692.89 1087.84L693.35 1084.01L693.8 1086.73L694.26 1090.56L694.71 1096.3L695.16 1084.78L695.62 1087L696.07 1095.13L696.53 1099.11L696.98 1085.82L697.43 1088.34L697.89 1090.15L698.34 1087.27L698.79 1087.64L699.25 1089.54L699.7 1084.41L700.16 1086.88L700.61 1090.6L701.06 1092.74L701.52 1091.88L701.97 1086.83L702.43 1091.41L702.88 1095.82L703.33 1095.19L703.79 1093.23L704.24 1094.91L704.7 1099.2L705.15 1091.84L705.6 1089.93L706.06 1091.2L706.51 1098.74L706.96 1094.7L707.42 1097.87L707.87 1092.46L708.33 1097.21L708.78 1092.13L709.23 1093.65L709.69 1102.47L710.14 1104.57L710.6 1098.83L711.05 1094.01L711.5 1095.4L711.96 1098.35L712.41 1092.73L712.87 1088.58L713.32 1093.45L713.77 1094.44L714.23 1094.76L714.68 1103.53L715.13 1099.26L715.59 1097.08L716.04 1090.71L716.5 1097.2L716.95 1101.21L717.4 1096.76L717.86 1094.95L718.31 1094.53L718.77 1099.84L719.22 1090.73L719.67 1093.32L720.13 1095.08L720.58 1095.88L721.03 1098.53L721.49 1099.51L721.94 1097.91L722.4 1097.9L722.85 1092.22L723.3 1088.71L723.76 1092.26L724.21 1095.06L724.67 1088.79L725.12 1091.03L725.57 1102.24L726.03 1094.66L726.48 1091.95L726.94 1087.68L727.39 1094.79L727.84 1103.91L728.3 1101.72L728.75 1089.84L729.2 1092.84L729.66 1090.62L730.11 1097.97L730.57 1101.05L731.02 1085.3L731.47 1092.95L731.93 1089.11L732.38 1093.72L732.84 1089.49L733.29 1095.15L733.74 1096.34L734.2 1090.7L734.65 1088.18L735.11 1089.48L735.56 1085.95L736.01 1080.43L736.47 1090.26L736.92 1089.41L737.37 1087.41L737.83 1086.97L738.28 1089.99L738.74 1084.9L739.19 1083.93L739.64 1085.49L740.1 1089.89L740.55 1081.26L741.01 1089.63L741.46 1083.46L741.91 1081.8L742.37 1089.45L742.82 1084.84L743.27 1080.75L743.73 1083.72L744.18 1087.84L744.64 1088.58L745.09 1083.12L745.54 1085.74L746 1086.64L746.45 1082.04L746.91 1085.22L747.36 1083.84L747.81 1082.07L748.27 1082.12L748.72 1083.86L749.18 1083.64L749.63 1081.59L750.08 1081.97L750.54 1086.95L750.99 1083.92L751.44 1086.05L751.9 1087.03L752.35 1084.95L752.81 1090.43L753.26 1080.2L753.71 1089.83L754.17 1085.21L754.62 1088.85L755.08 1088.28L755.53 1076.22L755.98 1079.41L756.44 1084.73L756.89 1085.09L757.34 1084.87L757.8 1082.17L758.25 1083.85L758.71 1084.46L759.16 1082.02L759.61 1085.61L760.07 1074.79L760.52 1084.25L760.98 1078.75L761.43 1085.26L761.88 1081.34L762.34 1079.15L762.79 1083.27L763.25 1079.04L763.7 1079.02L764.15 1076.87L764.61 1081.91L765.06 1083.63L765.51 1085.37L765.97 1081.58L766.42 1085.53L766.88 1082.22L767.33 1081.93L767.78 1084.21L768.24 1085.91L768.69 1081.45L769.15 1081.9L769.6 1082.32L770.05 1083.27L770.51 1080.21L770.96 1086.7L771.42 1082.2L771.87 1085.21L772.32 1081.18L772.78 1085.24L773.23 1085.54L773.68 1083.08L774.14 1091.26L774.59 1086.06L775.05 1090.85L775.5 1088.36L775.95 1083.24L776.41 1084.34L776.86 1087.19L777.32 1086.13L777.77 1086.26L778.22 1085.33L778.68 1080.54L779.13 1085.9L779.58 1079.59L780.04 1088.25L780.49 1084.87L780.95 1085.11L781.4 1086.94L781.85 1088.76L782.31 1090.98L782.76 1088.65L783.22 1085.04L783.67 1082.07L784.12 1085.79L784.58 1098.76L785.03 1089.44L785.49 1091.67L785.94 1085.26L786.39 1090.89L786.85 1089.05L787.3 1090.06L787.75 1092.27L788.21 1096.28L788.66 1091.32L789.12 1091.21L789.57 1087.74L790.02 1092.91L790.48 1090.29L790.93 1093.88L791.39 1091.11L791.84 1097L792.29 1084.96L792.75 1090.53L793.2 1094.44L793.66 1090.51L794.11 1089.14L794.56 1090.93L795.02 1087.37L795.47 1092.32L795.92 1099.93L796.38 1095.78L796.83 1088.51L797.29 1089.33L797.74 1090.9L798.19 1095.53L798.65 1089.64L799.1 1090.11L799.56 1103.16L800.01 1101.54L800.46 1091.23L800.92 1088.85L801.37 1087.47L801.82 1090.24L802.28 1093.6L802.73 1101.53L803.19 1090.44L803.64 1093.94L804.09 1102.98L804.55 1104.37L805 1095.14L805.46 1094.68L805.91 1095.43L806.36 1089.21L806.82 1088.37L807.27 1090.84L807.73 1085.94L808.18 1095.41L808.63 1083.03L809.09 1086.91L809.54 1089.34L809.99 1089.29L810.45 1090.33L810.9 1090.43L811.36 1088.68L811.81 1092.61L812.26 1088.39L812.72 1093.47L813.17 1086.02L813.63 1088.33L814.08 1093.84L814.53 1088.95L814.99 1093.88L815.44 1096.2L815.9 1087.5L816.35 1084.11L816.8 1092.11L817.26 1092.69L817.71 1081.09L818.16 1086.24L818.62 1092.74L819.07 1087.44L819.53 1085.69L819.98 1084.38L820.43 1083.41L820.89 1084.48L821.34 1083.6L821.8 1087.62L822.25 1084.44L822.7 1084.55L823.16 1082.57L823.61 1086.24L824.06 1084.05L824.52 1086.44L824.97 1090.3L825.43 1088.61L825.88 1089.28L826.33 1089.09L826.79 1088.44L827.24 1088.09L827.7 1087.71L828.15 1090.89L828.6 1085.63L829.06 1092.59L829.51 1088.78L829.97 1086.45L830.42 1087.06L830.87 1086.35L831.33 1088.53L831.78 1085.8L832.23 1090.81L832.69 1085.08L833.14 1080.57L833.6 1084.59L834.05 1080.66L834.5 1085.83L834.96 1094.46L835.41 1091.74L835.87 1081.1L836.32 1082.32L836.77 1088.99L837.23 1084.57L837.68 1083.33L838.14 1085.87L838.59 1089.36L839.04 1085.84L839.5 1082.32L839.95 1082.55L840.4 1082.89L840.86 1079.16L841.31 1077.56L841.77 1080.17L842.22 1077.07L842.67 1084.1L843.13 1083.1L843.58 1084.67L844.04 1075.7L844.49 1077.24L844.94 1076.72L845.4 1077.92L845.85 1079.14L846.3 1080.32L846.76 1077.94L847.21 1070.9L847.67 1080.96L848.12 1082.75L848.57 1074.31L849.03 1071.2L849.48 1072.56L849.94 1073.29L850.39 1074.2L850.84 1071.03L851.3 1071.61L851.75 1067.23L852.21 1068.66L852.66 1075.55L853.11 1065.36L853.57 1069.87L854.02 1071.02L854.47 1069.17L854.93 1067.74L855.38 1069.38L855.84 1069.22L856.29 1068.71L856.74 1063.73L857.2 1067.92L857.65 1065.76L858.11 1066.24L858.56 1067.92L859.01 1068.66L859.47 1068.99L859.92 1065.02L860.38 1068.36L860.83 1068.66L861.28 1068.2L861.74 1068.5L862.19 1064.15L862.64 1063.71L863.1 1065.94L863.55 1059.87L864.01 1063.59L864.46 1061.29L864.91 1061.32L865.37 1057.36L865.82 1059.17L866.28 1061.03L866.73 1062.98L867.18 1062.83L867.64 1059.62L868.09 1058.9L868.54 1056.79L869 1059.54L869.45 1057.36L869.91 1067.98L870.36 1068.63L870.81 1056.29L871.27 1051.89L871.72 1052.95L872.18 1050.8L872.63 1050.89L873.08 1056.81L873.54 1053.43L873.99 1048.33L874.45 1053.45L874.9 1054.53L875.35 1049.85L875.81 1048.61L876.26 1049.11L876.71 1050.39L877.17 1051L877.62 1052.12L878.08 1051.92L878.53 1051.59L878.98 1051.81L879.44 1049.75L879.89 1043.82L880.35 1047.24L880.8 1048.18L881.25 1046.14L881.71 1049.29L882.16 1045.76L882.61 1044.05L883.07 1049.97L883.52 1047.69L883.98 1046.25L884.43 1047.8L884.88 1047.85L885.34 1045.63L885.79 1037.98L886.25 1042.22L886.7 1042.36L887.15 1040.53L887.61 1049.41L888.06 1051.69L888.52 1045.53L888.97 1038.15L889.42 1045.86L889.88 1038.89L890.33 1036.33L890.78 1039.63L891.24 1039.61L891.69 1036.17L892.15 1039.57L892.6 1035.78L893.05 1034.2L893.51 1036.64L893.96 1037.78L894.42 1033.77L894.87 1035.95L895.32 1034.54L895.78 1041.82L896.23 1032.32L896.69 1037.45L897.14 1033.41L897.59 1032.91L898.05 1034.82L898.5 1034.98L898.95 1035.69L899.41 1033L899.86 1030.36L900.32 1030.32L900.77 1032.88L901.22 1032.93L901.68 1034.96L902.13 1032.35L902.59 1034.01L903.04 1035.23L903.49 1031.79L903.95 1027.62L904.4 1028.58L904.85 1035.09L905.31 1041.8L905.76 1030.13L906.22 1035.83L906.67 1034.47L907.12 1037.75L907.58 1036.26L908.03 1033.76L908.49 1033.98L908.94 1035.35L909.39 1036.37L909.85 1035.48L910.3 1037.88L910.76 1043.43L911.21 1036.25L911.66 1043.14L912.12 1042.87L912.57 1050.13L913.02 1070.86L913.48 1095.93L913.93 1117.97L914.39 1105.98L914.84 1114.8L915.29 1106.07L915.75 1100.75L916.2 1098.12L916.66 1089.63L917.11 1093.21L917.56 1094.67L918.02 1097.16L918.47 1092.99L918.93 1092.14L919.38 1087.11L919.83 1093.91L920.29 1094.38L920.74 1089.25L921.19 1088.11L921.65 1083.99L922.1 1090.02L922.56 1094.3L923.01 1088.7L923.46 1089.7L923.92 1087.43L924.37 1083.09L924.83 1088.78L925.28 1085.82L925.73 1087.39L926.19 1085.17L926.64 1086.53L927.09 1085.13L927.55 1084.92L928 1081.83L928.46 1080.41L928.91 1083.91L929.36 1081.9L929.82 1080.35L930.27 1080.46L930.73 1082.48L931.18 1078.93L931.63 1080.25L932.09 1079.5L932.54 1084.22L933 1084.81L933.45 1088.97L933.9 1079.86L934.36 1081.98L934.81 1086.12L935.26 1083.19L935.72 1082.9L936.17 1088.19L936.63 1082.87L937.08 1080.74L937.53 1080.33L937.99 1084.62L938.44 1084.54L938.9 1080.18L939.35 1081.19L939.8 1085.14L940.26 1085.25L940.71 1082.08L941.17 1085.37L941.62 1085.23L942.07 1079.1L942.53 1082.9L942.98 1084.76L943.43 1082.16L943.89 1078.05L944.34 1082.82L944.8 1085.46L945.25 1087.56L945.7 1077.69L946.16 1090.12L946.61 1080.33L947.07 1085.68L947.52 1086.33L947.97 1085.61L948.43 1083.38L948.88 1079.9L949.33 1084.49L949.79 1080.94L950.24 1076.18L950.7 1090.04L951.15 1084.48L951.6 1087.32L952.06 1080.19L952.51 1094.33L952.97 1093.03L953.42 1095.41L953.87 1089.54L954.33 1079.39L954.78 1082.08L955.24 1076.85L955.69 1078.2L956.14 1088.96L956.6 1085.01L957.05 1082.42L957.5 1082.65L957.96 1088.05L958.41 1086.51L958.87 1083.13L959.32 1086.51L959.77 1081.45L960.23 1082.73L960.68 1086.09L961.14 1080.62L961.59 1083.25L962.04 1080.66L962.5 1084.52L962.95 1088.58L963.41 1082.49L963.86 1085.14L964.31 1082.32L964.77 1081.76L965.22 1081.62L965.67 1088.7L966.13 1091.13L966.58 1086.3L967.04 1083.24L967.49 1087L967.94 1084.36L968.4 1093.57L968.85 1091.07L969.31 1086.15L969.76 1087.06L970.21 1084.04L970.67 1084.55L971.12 1081.19L971.57 1084.57L972.03 1082.08L972.48 1085.46L972.94 1083.39L973.39 1086.2L973.84 1087.16L974.3 1082.33L974.75 1083.95L975.21 1083.65L975.66 1088.08L976.11 1090.6L976.57 1088.4L977.02 1085.3L977.48 1090.04L977.93 1082.3L978.38 1090.15L978.84 1084.54L979.29 1078.89L979.74 1092.72L980.2 1089.5L980.65 1082.18L981.11 1084.69L981.56 1083.04L982.01 1083.18L982.47 1078.39L982.92 1079.84L983.38 1082.26L983.83 1081.15L984.28 1083.35L984.74 1080.24L985.19 1094.9L985.65 1085.17L986.1 1080.67L986.55 1075.02L987.01 1076.74L987.46 1083.45L987.91 1077.55L988.37 1081.38L988.82 1079.84L989.28 1077.28L989.73 1079.09L990.18 1078.66L990.64 1078.73L991.09 1081.96L991.55 1081.7L992 1078.5L992.45 1077.64L992.91 1080.73L993.36 1079.74L993.81 1082.67L994.27 1086.9L994.72 1082.19L995.18 1079.91L995.63 1079.55L996.08 1077.77L996.54 1077.64L996.99 1077.39L997.45 1078.97L997.9 1078.87L998.35 1081.85L998.81 1078.77L999.26 1079.15L999.72 1076.31L1000.17 1083.54L1000.62 1080.33L1001.08 1083.38L1001.53 1080.5L1001.98 1081.97L1002.44 1077.1L1002.89 1079.24L1003.35 1084.02L1003.8 1073.41L1004.25 1079.24L1004.71 1080.18L1005.16 1076.44L1005.62 1076.91L1006.07 1077.82L1006.52 1072.33L1006.98 1074.75L1007.43 1070.95L1007.88 1071.06L1008.34 1070.84L1008.79 1071.74L1009.25 1072.16L1009.7 1078.69L1010.15 1072.21L1010.61 1076.12L1011.06 1073.63L1011.52 1072.19L1011.97 1069L1012.42 1069.42L1012.88 1070.81L1013.33 1070.15L1013.79 1064.27L1014.24 1070.42L1014.69 1075.92L1015.15 1062.93L1015.6 1070.21L1016.05 1068.25L1016.51 1066.68L1016.96 1070.36L1017.42 1063.26L1017.87 1066.58L1018.32 1075.67L1018.78 1069.8L1019.23 1064.24L1019.69 1065.42L1020.14 1063.68L1020.59 1077.06L1021.05 1068.62L1021.5 1066.52L1021.96 1060.64L1022.41 1065.58L1022.86 1063.32L1023.32 1056.52L1023.77 1063.23L1024.22 1060.23L1024.68 1061.74L1025.13 1066.88L1025.59 1059.63L1026.04 1059.64L1026.49 1066.18L1026.95 1062.5L1027.4 1066.17L1027.86 1062.77L1028.31 1059.41L1028.76 1061.46L1029.22 1064.78L1029.67 1063.87L1030.12 1061.21L1030.58 1061.2L1031.03 1060.62L1031.49 1059.24L1031.94 1065.81L1032.39 1060.52L1032.85 1057.34L1033.3 1058.95L1033.76 1062.04L1034.21 1061.67L1034.66 1059.46L1035.12 1057.9L1035.57 1065.98L1036.03 1060.04L1036.48 1055.8L1036.93 1061.29L1037.39 1057.74L1037.84 1059.89L1038.29 1062.01L1038.75 1060.35L1039.2 1058.54L1039.66 1064.04L1040.11 1059.99L1040.56 1057.15L1041.02 1059.85L1041.47 1058.86L1041.93 1055.5L1042.38 1057.72L1042.83 1056.99L1043.29 1052.48L1043.74 1056.75L1044.2 1056.38L1044.65 1055.93L1045.1 1053.06L1045.56 1055.96L1046.01 1056.59L1046.46 1056.81L1046.92 1054.02L1047.37 1057.76L1047.83 1053.74L1048.28 1055.74L1048.73 1058.78L1049.19 1054.6L1049.64 1054.86L1050.1 1057.84L1050.55 1054.86L1051 1054.88L1051.46 1055.68L1051.91 1057L1052.36 1050.94L1052.82 1053.21L1053.27 1052.69L1053.73 1052.33L1054.18 1052.44L1054.63 1051.92L1055.09 1052.93L1055.54 1050L1056 1050.49L1056.45 1049.77L1056.9 1046.68L1057.36 1053.77L1057.81 1053.07L1058.27 1043.48L1058.72 1040.34L1059.17 1039.69L1059.63 1036.69L1060.08 1036.9L1060.53 1036.14L1060.99 1031.78L1061.44 1031.12L1061.9 1031.67L1062.35 1027.65L1062.8 1027.44L1063.26 1024.37L1063.71 1023.76L1064.17 1023.48L1064.62 1027.01L1065.07 1022.37L1065.53 1021.64L1065.98 1021.09L1066.44 1021.25L1066.89 1022.11L1067.34 1020.97L1067.8 1023.48L1068.25 1020.2L1068.7 1021.7L1069.16 1019.42L1069.61 1019.45L1070.07 1015.71L1070.52 1017.17L1070.97 1016.59L1071.43 1021L1071.88 1019.21L1072.34 1021.71L1072.79 1012.72L1073.24 1011.56L1073.7 1010.74L1074.15 1009.47L1074.6 1009.46L1075.06 1003.7L1075.51 1002.52L1075.97 1002.43L1076.42 997.46L1076.87 991.72L1077.33 988.12L1077.78 984.45L1078.24 985.14L1078.69 989.19L1079.14 981.2L1079.6 990.69L1080.05 988.34L1080.51 983.76L1080.96 988.46L1081.41 980.43L1081.87 979.66L1082.32 981.49L1082.77 984.94L1083.23 985.46L1083.68 984.96L1084.14 987.41L1084.59 979.33L1085.04 989.17L1085.5 982.19L1085.95 985.05L1086.41 985.97L1086.86 983.22L1087.31 982.41L1087.77 983.76L1088.22 987.46L1088.68 989.7L1089.13 989.6L1089.58 983.79L1090.04 984.55L1090.49 984.06L1090.94 989.18L1091.4 979.87L1091.85 992.14L1092.31 985.68L1092.76 984.52L1093.21 988.48L1093.67 990.63L1094.12 993.27L1094.58 994.06L1095.03 985.15L1095.48 988.48L1095.94 987.77L1096.39 981.97L1096.84 987.19L1097.3 981.91L1097.75 981.37L1098.21 977.51L1098.66 980.06L1099.11 984.4L1099.57 976.83L1100.02 984.79L1100.48 984.2L1100.93 984.52L1101.38 975.64L1101.84 984.32L1102.29 987.82L1102.75 982.98L1103.2 986.78L1103.65 977.72L1104.11 989.79L1104.56 984.87L1105.01 990.86L1105.47 980.36L1105.92 990.09L1106.38 986.4L1106.83 990.31L1107.28 983.42L1107.74 984.41L1108.19 995.29L1108.65 983.09L1109.1 983.04L1109.55 983.47L1110.01 978.76L1110.46 984.99L1110.92 984.29L1111.37 973.11L1111.82 967.4L1112.28 974.63L1112.73 972.46L1113.18 969.84L1113.64 969.1L1114.09 962.27L1114.55 962.67L1115 958.52L1115.45 957.2L1115.91 960.66L1116.36 955.89L1116.82 959.24L1117.27 953.64L1117.72 950.52L1118.18 949.85L1118.63 948.19L1119.08 943.51L1119.54 938.57L1119.99 937.98L1120.45 937.21L1120.9 933.55L1121.35 931.82L1121.81 932.07L1122.26 928.76L1122.72 923.26L1123.17 913.57L1123.62 899.33L1124.08 887.1L1124.53 877.99L1124.99 871.62L1125.44 864.15L1125.89 855.63L1126.35 851.99L1126.8 848.4L1127.25 845.75L1127.71 846.61L1128.16 850.1L1128.62 856.73L1129.07 864.25L1129.52 863.93L1129.98 861.17L1130.43 860.95L1130.89 854.87L1131.34 846.76L1131.79 835.22L1132.25 825.07L1132.7 817.7L1133.15 815.93L1133.61 817.47L1134.06 816.71L1134.52 821.13L1134.97 820.17L1135.42 819.99L1135.88 820.67L1136.33 818.56L1136.79 815.38L1137.24 813.6L1137.69 800.31L1138.15 791.01L1138.6 787.88L1139.06 793.43L1139.51 798.32L1139.96 803.39L1140.42 799.7L1140.87 796.55L1141.32 790.98L1141.78 792.01L1142.23 799.27L1142.69 804.81L1143.14 810.53L1143.59 817.78L1144.05 821.66L1144.5 825.45L1144.96 830.01L1145.41 828.43L1145.86 824.85L1146.32 815.96L1146.77 805.95L1147.23 801.94L1147.68 807.87L1148.13 819.09L1148.59 827L1149.04 828.25L1149.49 820.89L1149.95 814.5L1150.4 805.29L1150.86 796.26L1151.31 789.18L1151.76 783.2L1152.22 783.5L1152.67 781.87L1153.13 780.83L1153.58 780.1L1154.03 783.59L1154.49 791.25L1154.94 796.66L1155.39 801.99L1155.85 802.76L1156.3 798.46L1156.76 792.1L1157.21 782.57L1157.66 774.55L1158.12 771.28L1158.57 769.12L1159.03 773.72L1159.48 780.74L1159.93 791.78L1160.39 801.14L1160.84 808.19L1161.3 810.45L1161.75 809.92L1162.2 809.14L1162.66 809.99L1163.11 821.12L1163.56 830.62L1164.02 833.46L1164.47 828.39L1164.93 823.97L1165.38 816.63L1165.83 810.26L1166.29 807.31L1166.74 802.44L1167.2 801.8L1167.65 804.57L1168.1 808.52L1168.56 815.07L1169.01 818.73L1169.47 829.11L1169.92 839.34L1170.37 852.24L1170.83 861.23L1171.28 865.37L1171.73 858.82L1172.19 850.43L1172.64 838.43L1173.1 826.48L1173.55 820.78L1174 822.05L1174.46 831.62L1174.91 846.65L1175.37 850.33L1175.82 846.51L1176.27 841.17L1176.73 840.44L1177.18 842.1L1177.63 858.17L1178.09 881.15L1178.54 902.87L1179 922.05L1179.45 927.24L1179.9 923.96L1180.36 915.98L1180.81 905.1L1181.27 893.69L1181.72 880.43L1182.17 869.38L1182.63 861.57L1183.08 859.07L1183.54 861.18L1183.99 870.59L1184.44 883.9L1184.9 898.25L1185.35 913.42L1185.8 925.74L1186.26 936.94L1186.71 942.63L1187.17 948.03L1187.62 953.53L1188.07 961.12L1188.53 964.43L1188.98 968.37L1189.44 972.21L1189.89 974.7L1190.34 977.07L1190.8 975.58L1191.25 974.11L1191.71 965.94L1192.16 961.56L1192.61 955.55L1193.07 956.76L1193.52 960.16L1193.97 970.57L1194.43 981.89L1194.88 988.32L1195.34 985.71L1195.79 983.24L1196.24 977.28L1196.7 972.48L1197.15 965.55L1197.61 958.75L1198.06 952.66L1198.51 948.61L1198.97 945.86L1199.42 945.48L1199.87 945.25L1200.33 941.17L1200.78 941.8L1201.24 940.18L1201.69 939.09L1202.14 934.03L1202.6 925.26L1203.05 912.14L1203.51 902.44L1203.96 894.64L1204.41 888.02L1204.87 882.56L1205.32 877.04L1205.78 872.43L1206.23 873.04L1206.68 875.76L1207.14 879.59L1207.59 879.61L1208.04 875.47L1208.5 868.47L1208.95 865.57L1209.41 864.9L1209.86 862.2L1210.31 858.19L1210.77 856.6L1211.22 857.81L1211.68 863.44L1212.13 868.77L1212.58 872.31L1213.04 865.08L1213.49 860.15L1213.95 867.38L1214.4 876.8L1214.85 885.51L1215.31 883.72L1215.76 870.73L1216.21 851.67L1216.67 835.2L1217.12 824.82L1217.58 827.96L1218.03 832.79L1218.48 840.45L1218.94 852.87L1219.39 865.8L1219.85 877.48L1220.3 888.93L1220.75 896.08L1221.21 901.63L1221.66 909.27L1222.11 914.52L1222.57 920.56L1223.02 922.59L1223.48 923.57L1223.93 916.48L1224.38 907.54L1224.84 900.83L1225.29 893.65L1225.75 885.79L1226.2 881.97L1226.65 880.56L1227.11 879.94L1227.56 878.48L1228.02 876.78L1228.47 876.9L1228.92 873.38L1229.38 868.25L1229.83 860.59L1230.28 854.52L1230.74 851.4L1231.19 849.07L1231.65 855.55L1232.1 865.45L1232.55 876.22L1233.01 889.62L1233.46 900.79L1233.92 913.43L1234.37 920.2L1234.82 921.34L1235.28 914.37L1235.73 905.08L1236.19 896.18L1236.64 889.23L1237.09 886.61L1237.55 888.34L1238 888.42L1238.45 891.42L1238.91 896.71L1239.36 918.56L1239.82 941.92L1240.27 958.13L1240.72 969.3L1241.18 972.58L1241.63 972.19L1242.09 972.59L1242.54 969.88L1242.99 966.07L1243.45 966.43L1243.9 963.21L1244.35 959.38L1244.81 956.81L1245.26 949.24L1245.72 942.69L1246.17 938.66L1246.62 934.62L1247.08 934.5L1247.53 937.49L1247.99 939.96L1248.44 943.87L1248.89 949.23L1249.35 950.65L1249.8 951.37L1250.26 951.54L1250.71 951.93L1251.16 953.6L1251.62 957.89L1252.07 972.5L1252.52 979.39L1252.98 984.38L1253.43 986.89L1253.89 990.45L1254.34 992.84L1254.79 994.45L1255.25 992.95L1255.7 993.89L1256.16 994.05L1256.61 994.69L1257.06 997.5L1257.52 1002.69L1257.97 1004.83L1258.42 1010.45L1258.88 1014.46L1259.33 1018.05L1259.79 1022.03L1260.24 1026.3L1260.69 1035.05L1261.15 1038.33L1261.6 1046.61L1262.06 1049.82L1262.51 1050.47L1262.96 1046.16L1263.42 1046.15L1263.87 1050.37L1264.33 1053.08L1264.78 1056.42L1265.23 1056.18L1265.69 1051.74L1266.14 1048.61L1266.59 1042.25L1267.05 1041.32L1267.5 1040.96L1267.96 1048.02L1268.41 1051.24L1268.86 1056.47L1269.32 1065.07L1269.77 1075.37L1270.23 1087.39L1270.68 1088.82L1271.13 1086.37L1271.59 1081.77L1272.04 1077.23L1272.5 1072.11L1272.95 1074.2L1273.4 1081.93L1273.86 1090.7L1274.31 1095.53L1274.76 1096.68L1275.22 1096.84L1275.67 1100.91L1276.13 1102.47L1276.58 1109.67L1277.03 1114.34L1277.49 1117.33L1277.94 1119.98L1278.4 1123.79L1278.85 1127.37L1279.3 1129.75L1279.76 1130.25L1280.21 1130.51L1280.66 1127.9L1281.12 1126.82L1281.57 1122.99L1282.03 1122.77L1282.48 1119.44L1282.93 1115.16L1283.39 1112.25L1283.84 1107.31L1284.3 1099.86L1284.75 1098.12L1285.2 1092.24L1285.66 1090.05L1286.11 1087.09L1286.57 1080.54L1287.02 1077.99L1287.47 1075.35L1287.93 1073.83L1288.38 1071.83L1288.83 1069.42L1289.29 1063.04L1289.74 1056.19L1290.2 1041.81L1290.65 1031.18L1291.1 1017.83L1291.56 1002.4L1292.01 987.37L1292.47 977.88L1292.92 974.59L1293.37 979.16L1293.83 989.84L1294.28 999.29L1294.74 1011.28L1295.19 1017.86L1295.64 1023.17L1296.1 1026.4L1296.55 1025.26L1297 1016.08L1297.46 1010.83L1297.91 1012.96L1298.37 1021.27L1298.82 1027.98L1299.27 1041.93L1299.73 1054.36L1300.18 1070.91L1300.64 1075.59L1301.09 1077.15L1301.54 1080.28L1302 1081.19L1302.45 1082.86L1302.9 1080.84L1303.36 1080.83L1303.81 1075.13L1304.27 1068.77L1304.72 1056.41L1305.17 1040.47L1305.63 1027.02L1306.08 1017.06L1306.54 1007.95L1306.99 998.4L1307.44 987.49L1307.9 977.02L1308.35 963.39L1308.81 952.36L1309.26 945.61L1309.71 941.15L1310.17 938.58L1310.62 935.77L1311.07 932.99L1311.53 923.49L1311.98 913.14L1312.44 902.87L1312.89 900.46L1313.34 897.66L1313.8 897.62L1314.25 901.87L1314.71 904.4L1315.16 905.59L1315.61 900.99L1316.07 895.27L1316.52 885.26L1316.98 877.89L1317.43 870.9L1317.88 863.96L1318.34 858.84L1318.79 854.27L1319.24 843.67L1319.7 838.01L1320.15 832.34L1320.61 831.46L1321.06 842.17L1321.51 859.2L1321.97 879.13L1322.42 903.4L1322.88 932.37L1323.33 960.78L1323.78 971.45L1324.24 979.36L1324.69 986.76L1325.14 991.76L1325.6 992.64L1326.05 992.7L1326.51 992.43L1326.96 989.09L1327.41 991.13L1327.87 990.41L1328.32 986.88L1328.78 980.3L1329.23 968.18L1329.68 957.88L1330.14 945.4L1330.59 928.87L1331.05 915.42L1331.5 908.53L1331.95 906.03L1332.41 902.01L1332.86 901.98L1333.31 901.41L1333.77 901.37L1334.22 905.4L1334.68 913.79L1335.13 917.27L1335.58 922.29L1336.04 924.22L1336.49 919.63L1336.95 906.48L1337.4 888.1L1337.85 872.36L1338.31 863.45L1338.76 856.87L1339.22 848.65L1339.67 847.66L1340.12 849.21L1340.58 854.16L1341.03 864.84L1341.48 878.43L1341.94 895.66L1342.39 936.03L1342.85 956.48L1343.3 962.13L1343.75 964.3L1344.21 961.46L1344.66 953.7L1345.12 946.34L1345.57 938.95L1346.02 933.3L1346.48 932.58L1346.93 935.04L1347.38 938.36L1347.84 942.78L1348.29 941.38L1348.75 936.39L1349.2 928.86L1349.65 920.98L1350.11 919.36L1350.56 925.88L1351.02 934.89L1351.47 942.94L1351.92 947.84L1352.38 942.66L1352.83 933.88L1353.29 921.9L1353.74 913.71L1354.19 912.93L1354.65 915.58L1355.1 920.3L1355.55 927L1356.01 934.8L1356.46 941.09L1356.92 949L1357.37 954.4L1357.82 963.95L1358.28 972.04L1358.73 979.89L1359.19 985.67L1359.64 991.43L1360.09 998.17L1360.55 1003.22L1361 1007.94L1361.46 1016.93L1361.91 1024.88L1362.36 1031.94L1362.82 1040.29L1363.27 1043.18L1363.72 1048.24L1364.18 1049.65L1364.63 1050.45L1365.09 1049.96L1365.54 1045.8L1365.99 1040.91L1366.45 1034.22L1366.9 1027.51L1367.36 1020.06L1367.81 1009.27L1368.26 1004.18L1368.72 993.88L1369.17 987.28L1369.62 979.2L1370.08 969.63L1370.53 960.8L1370.99 953.66L1371.44 946.93L1371.89 939.59L1372.35 931.38L1372.8 921.8L1373.26 914.46L1373.71 905.23L1374.16 900.2L1374.62 896.08L1375.07 894.08L1375.53 891.96L1375.98 891.17L1376.43 890.81L1376.89 891.83L1377.34 898.64L1377.79 909.4L1378.25 922.89L1378.7 936.18L1379.16 948.96L1379.61 957.9L1380.06 962.66L1380.52 962.6L1380.97 958.97L1381.43 957.13L1381.88 950.78L1382.33 947.47L1382.79 945.29L1383.24 943.23L1383.69 942.61L1384.15 943.53L1384.6 942.67L1385.06 940.83L1385.51 937.1L1385.96 932.44L1386.42 928.52L1386.87 923.08L1387.33 922.36L1387.78 922.37L1388.23 927.09L1388.69 930.82L1389.14 935.92L1389.6 942.24L1390.05 949.47L1390.5 962.31L1390.96 970.1L1391.41 972.47L1391.86 968.32L1392.32 961.38L1392.77 952.56L1393.23 944.49L1393.68 938.27L1394.13 930.72L1394.59 924.8L1395.04 911.4L1395.5 896.15L1395.95 877.89L1396.4 864.3L1396.86 850.74L1397.31 840.84L1397.77 831.4L1398.22 826.13L1398.67 825.52L1399.13 833.82L1399.58 847.32L1400.03 867.2L1400.49 887.52L1400.94 915.58L1401.4 950.7L1401.85 969.81L1402.3 987.12L1402.76 996.95L1403.21 1000.08L1403.67 995.4L1404.12 986.85L1404.57 980.36L1405.03 971.16L1405.48 965.27L1405.93 958.4L1406.39 955.08L1406.84 959.31L1407.3 960.78L1407.75 944.65L1408.2 929.01L1408.66 917.63L1409.11 904.73L1409.57 895.73L1410.02 888.61L1410.47 884.26L1410.93 879.11L1411.38 876.11L1411.84 873.24L1412.29 869.27L1412.74 864.85L1413.2 859.59L1413.65 856.3L1414.1 853.46L1414.56 852.34L1415.01 852.74L1415.47 855.44L1415.92 858.88L1416.37 857.76L1416.83 859.04L1417.28 856.13L1417.74 844.58L1418.19 836.32L1418.64 826.8L1419.1 819.49L1419.55 809.11L1420.01 802.76L1420.46 803.77L1420.91 815.47L1421.37 832.71L1421.82 851.99L1422.27 868.85L1422.73 889.82L1423.18 908.85L1423.64 929L1424.09 938.14L1424.54 931.42L1425 919.2L1425.45 909.25L1425.91 909.19L1426.36 909.27L1426.81 908.63L1427.27 904.95L1427.72 891.68L1428.17 874.54L1428.63 858.52L1429.08 845.4L1429.54 831.37L1429.99 820.54L1430.44 809.52L1430.9 805.64L1431.35 803.59L1431.81 800.47L1432.26 801.32L1432.71 800.5L1433.17 799.15L1433.62 800.28L1434.08 802L1434.53 805.53L1434.98 816.95L1435.44 826.8L1435.89 837.52L1436.34 851.71L1436.8 865.16L1437.25 879.26L1437.71 890.3L1438.16 900.29L1438.61 909.97L1439.07 916.96L1439.52 924.79L1439.98 934.27L1440.43 940.82L1440.88 945.15L1441.34 940.76L1441.79 932.27L1442.25 919.23L1442.7 906.39L1443.15 891.67L1443.61 876.23L1444.06 860.97L1444.51 853.99L1444.97 850.63L1445.42 848.81L1445.88 845.87L1446.33 845.75L1446.78 843.58L1447.24 842.01L1447.69 841.3L1448.15 843.02L1448.6 847.31L1449.05 852.21L1449.51 856.46L1449.96 863.1L1450.41 869.27L1450.87 875.65L1451.32 876.21L1451.78 873.44L1452.23 874.52L1452.68 870.59L1453.14 866.12L1453.59 859.98L1454.05 850.64L1454.5 848.98L1454.95 845.78L1455.41 842.53L1455.86 843.51L1456.32 842.18L1456.77 846.32L1457.22 854.92L1457.68 871.55L1458.13 894.06L1458.58 930.75L1459.04 948.08L1459.49 948.37L1459.95 951.64L1460.4 954.16L1460.85 955.52L1461.31 970.74L1461.76 983.38L1462.22 998.03L1462.67 1009.33L1463.12 1019.04L1463.58 1023.36L1464.03 1017.06L1464.49 1004.48L1464.94 991.95L1465.39 978.62L1465.85 969.44L1466.3 966.36L1466.75 958.35L1467.21 952.75L1467.66 948.63L1468.12 942.84L1468.57 937.74L1469.02 929.11L1469.48 917.18L1469.93 906.5L1470.39 898L1470.84 886.93L1471.29 878.65L1471.75 870.74L1472.2 863.01L1472.65 860.43L1473.11 857.07L1473.56 857.29L1474.02 855.31L1474.47 853.16L1474.92 849.33L1475.38 845.19L1475.83 835.21L1476.29 827.5L1476.74 820.73L1477.19 814.77L1477.65 812.73L1478.1 812.42L1478.56 814.99L1479.01 821.28L1479.46 822.33L1479.92 822.78L1480.37 823.54L1480.82 824.19L1481.28 829.76L1481.73 836.26L1482.19 841.33L1482.64 840.53L1483.09 836.8L1483.55 836.71L1484 836.06L1484.46 842.22L1484.91 849.65L1485.36 855.25L1485.82 864.27L1486.27 868.62L1486.73 871.05L1487.18 872.54L1487.63 865.63L1488.09 858.98L1488.54 851.69L1488.99 855.83L1489.45 862.9L1489.9 874.26L1490.36 887.07L1490.81 899.21L1491.26 909.41L1491.72 923.33L1492.17 936.56L1492.63 955.11L1493.08 977.51L1493.53 998.76L1493.99 1018.25L1494.44 1037.63L1494.89 1053.44L1495.35 1068.31L1495.8 1085.12L1496.26 1100.21L1496.71 1108.18L1497.16 1114.61L1497.62 1119.6L1498.07 1112.99L1498.53 1107.43L1498.98 1101.73L1499.43 1100.31L1499.89 1098.34L1500.34 1098.79L1500.8 1095.55L1501.25 1087.1L1501.7 1075.49L1502.16 1067.69L1502.61 1070.26L1503.06 1083.2L1503.52 1098.94L1503.97 1109.6L1504.43 1121.1L1504.88 1127.24L1505.33 1125.18L1505.79 1114.27L1506.24 1110.11L1506.7 1110.17L1507.15 1110.16L1507.6 1112.6L1508.06 1113.89L1508.51 1116.01L1508.96 1120.38L1509.42 1121.27L1509.87 1123.82L1510.33 1125.31L1510.78 1125.78L1511.23 1126.3L1511.69 1122.26L1512.14 1118.39L1512.6 1114.66L1513.05 1099.64L1513.5 1084.74L1513.96 1066.24L1514.41 1054.08L1514.87 1052.1L1515.32 1048.31L1515.77 1044.88L1516.23 1044.64L1516.68 1039.51L1517.13 1040.63L1517.59 1047.49L1518.04 1056.46L1518.5 1057.53L1518.95 1052.3L1519.4 1039.53L1519.86 1028.7L1520.31 1024.4L1520.77 1018.78L1521.22 1012.13L1521.67 1005.75L1522.13 999.56L1522.58 992.11L1523.04 986.38L1523.49 974.33L1523.94 960.18L1524.4 950.38L1524.85 946.43L1525.3 944.47L1525.76 944.89L1526.21 943.64L1526.67 945.95L1527.12 950.79L1527.57 962.26L1528.03 973.35L1528.48 968.73L1528.94 954.41L1529.39 944.62L1529.84 940.82L1530.3 941.68L1530.75 940.51L1531.2 947.78L1531.66 960.6L1532.11 982.57L1532.57 994.33L1533.02 988.68L1533.47 971.74L1533.93 956.54L1534.38 946.16L1534.84 946.53L1535.29 948.69L1535.74 953.23L1536.2 957.79L1536.65 963.79L1537.11 970.26L1537.56 978.07L1538.01 987.02L1538.47 997.2L1538.92 1009.84L1539.37 1015.04L1539.83 1015.93L1540.28 1015.95L1540.74 1015.34L1541.19 1024.77L1541.64 1032.79L1542.1 1038.06L1542.55 1035.07L1543.01 1031.23L1543.46 1028.95L1543.91 1033.32L1544.37 1039.05L1544.82 1048.86L1545.28 1057.32L1545.73 1063.71L1546.18 1070.05L1546.64 1077.64L1547.09 1081.37L1547.54 1088.4L1548 1092.39L1548.45 1093.65L1548.91 1089.58L1549.36 1083.15L1549.81 1090.34L1550.27 1096.3L1550.72 1099.52L1551.18 1091.16L1551.63 1083.99L1552.08 1073.07L1552.54 1064.31L1552.99 1056.17L1553.44 1045.65L1553.9 1034.15L1554.35 1029.88L1554.81 1022.72L1555.26 1021.37L1555.71 1022.97L1556.17 1026.34L1556.62 1027.89L1557.08 1034.06L1557.53 1034.23L1557.98 1026.36L1558.44 1012.51L1558.89 1000.31L1559.35 990.74L1559.8 982.55L1560.25 971.06L1560.71 958.38L1561.16 946.9L1561.61 938.1L1562.07 928.25L1562.52 921.81L1562.98 918.37L1563.43 912.71L1563.88 907.15L1564.34 900.4L1564.79 891.45L1565.25 881.91L1565.7 872.41L1566.15 863.85L1566.61 856.96L1567.06 849.86L1567.52 844.71L1567.97 844.86L1568.42 850.35L1568.88 859.84L1569.33 872.86L1569.78 884.69L1570.24 899.87L1570.69 915.45L1571.15 928.08L1571.6 942.3L1572.05 956.55L1572.51 966.32L1572.96 969.27L1573.42 971.98L1573.87 972.42L1574.32 972.68L1574.78 975.05L1575.23 979.38L1575.68 982.6L1576.14 991.27L1576.59 998.06L1577.05 1002.51L1577.5 999.19L1577.95 987.36L1578.41 967.93L1578.86 953.11L1579.32 938.78L1579.77 933.02L1580.22 932.03L1580.68 931.47L1581.13 932.56L1581.59 930.62L1582.04 930.44L1582.49 934.13L1582.95 937.63L1583.4 942.03L1583.85 943.54L1584.31 949.44L1584.76 951.73L1585.22 950.49L1585.67 937.47L1586.12 925.76L1586.58 914.96L1587.03 911.28L1587.49 915.65L1587.94 923.58L1588.39 932.07L1588.85 949.67L1589.3 965.39L1589.76 966.71L1590.21 963.27L1590.66 957.94L1591.12 957.49L1591.57 959.31L1592.02 959.47L1592.48 961.7L1592.93 969.96L1593.39 983.32L1593.84 993.73L1594.29 999.81L1594.75 999.99L1595.2 996.75L1595.66 994.25L1596.11 995.74L1596.56 1005.15L1597.02 1017.95L1597.47 1027.42L1597.92 1029.18L1598.38 1031.9L1598.83 1031.86L1599.29 1032.9L1599.74 1027.71L1600.19 1022.97L1600.65 1021.62L1601.1 1024.18L1601.56 1026.17L1602.01 1027.97L1602.46 1025.58L1602.92 1023.09L1603.37 1018.33L1603.83 1016.87L1604.28 1019.66L1604.73 1024.15L1605.19 1025.65L1605.64 1020.59L1606.09 1013.94L1606.55 1004.19L1607 999.88L1607.46 994.09L1607.91 989.52L1608.36 985.69L1608.82 990.68L1609.27 1004.4L1609.73 1020.02L1610.18 1033.73L1610.63 1052.87L1611.09 1068.63L1611.54 1077.82L1612 1083.76L1612.45 1090.33L1612.9 1095.19L1613.36 1097.25L1613.81 1094.93L1614.26 1091.7L1614.72 1088.06L1615.17 1086.37L1615.63 1089.88L1616.08 1090.06L1616.53 1090.49L1616.99 1088.47L1617.44 1080.82L1617.9 1071.38L1618.35 1064.4L1618.8 1054.85L1619.26 1046.74L1619.71 1036.82L1620.16 1032.08L1620.62 1021.95L1621.07 1017.2L1621.53 1008.41L1621.98 1000.06L1622.43 990.76L1622.89 980.2L1623.34 970.11L1623.8 962.9L1624.25 955L1624.7 952.41L1625.16 949.85L1625.61 950.21L1626.07 948.46L1626.52 943.63L1626.97 931.99L1627.43 918.94L1627.88 912.69L1628.33 913.37L1628.79 913.63L1629.24 914.25L1629.7 913.23L1630.15 900.91L1630.6 890.3L1631.06 886.09L1631.51 880.16L1631.97 880.56L1632.42 880.78L1632.87 877.92L1633.33 881.33L1633.78 876.17L1634.23 879.16L1634.69 877.45L1635.14 872.1L1635.6 864.72L1636.05 858.93L1636.5 852.62L1636.96 848.98L1637.41 842.29L1637.87 838.91L1638.32 837.01L1638.77 832.29L1639.23 830.74L1639.68 830.17L1640.14 830.56L1640.59 838.22L1641.04 844.28L1641.5 848.59L1641.95 854.16L1642.4 857.65L1642.86 863.8L1643.31 876.73L1643.77 884.44L1644.22 888.03L1644.67 888.16L1645.13 890.91L1645.58 890.77L1646.04 891.98L1646.49 888.97L1646.94 879.42L1647.4 869L1647.85 865.76L1648.31 862.36L1648.76 861.93L1649.21 862.82L1649.67 865.67L1650.12 869.73L1650.57 873.95L1651.03 874.97L1651.48 875.5L1651.94 873.75L1652.39 872.73L1652.84 882.98L1653.3 889.69L1653.75 890.5L1654.21 891.17L1654.66 892.96L1655.11 887.58L1655.57 876.39L1656.02 866.27L1656.47 864.4L1656.93 874.67L1657.38 883.4L1657.84 892.5L1658.29 894.64L1658.74 896.56L1659.2 896.15L1659.65 895.27L1660.11 889.2L1660.56 887.45L1661.01 890.31L1661.47 900.97L1661.92 906.66L1662.38 907.5L1662.83 910.01L1663.28 909.26L1663.74 910.5L1664.19 913.53L1664.64 919.33L1665.1 927.5L1665.55 936.96L1666.01 945.41L1666.46 957.98L1666.91 969.42L1667.37 976.34L1667.82 972.83L1668.28 963.37L1668.73 954.5L1669.18 951.04L1669.64 950.15L1670.09 957.12L1670.55 970.08L1671 978.09L1671.45 978.27L1671.91 977.38L1672.36 977.14L1672.81 977.76L1673.27 976.29L1673.72 974.61L1674.18 973.19L1674.63 971.51L1675.08 966.61L1675.54 965.91L1675.99 963.94L1676.45 964.82L1676.9 973.82L1677.35 986.08L1677.81 999.95L1678.26 1017.85L1678.71 1032.75L1679.17 1041.2L1679.62 1041.02L1680.08 1035.35L1680.53 1031.4L1680.98 1036.17L1681.44 1048.24L1681.89 1057.61L1682.35 1065.61L1682.8 1068.9L1683.25 1073.21L1683.71 1078.9L1684.16 1085.48L1684.62 1092.82L1685.07 1099.79L1685.52 1106.67L1685.98 1117.18L1686.43 1127.5L1686.88 1133.81L1687.34 1131.38L1687.79 1130.4L1688.25 1131.59L1688.7 1128.9L1689.15 1130.02L1689.61 1133.51L1690.06 1137.67L1690.52 1144.16L1690.97 1153.81L1691.42 1157.1L1691.88 1163.3L1692.33 1163.12L1692.79 1158.37L1693.24 1158.69L1693.69 1171.85L1694.15 1177.46L1694.6 1169.14L1695.05 1162.65L1695.51 1156.95L1695.96 1152.52L1696.42 1147.82L1696.87 1145.69L1697.32 1143.57L1697.78 1143.14L1698.23 1141.98L1698.69 1142.02L1699.14 1143.66L1699.59 1145.55L1700.05 1146.65L1700.5 1152.12L1700.95 1154.04L1701.41 1154.98L1701.86 1155.2L1702.32 1147.45L1702.77 1141.5L1703.22 1136.57L1703.68 1133.44L1704.13 1130.59L1704.59 1128.45L1705.04 1130.46L1705.49 1136.22L1705.95 1131.95L1706.4 1128.76L1706.86 1123.31L1707.31 1117.14L1707.76 1111.38L1708.22 1107.43L1708.67 1098.63L1709.12 1090.66L1709.58 1077.91L1710.03 1067.45L1710.49 1060.23L1710.94 1053.72L1711.39 1047.38L1711.85 1040.86L1712.3 1035.66L1712.76 1031.28L1713.21 1027.57L1713.66 1022.62L1714.12 1016.17L1714.57 1009.94L1715.03 1003.82L1715.48 997.43L1715.93 992.37L1716.39 987.33L1716.84 983.13L1717.29 979.32L1717.75 975.99L1718.2 972.74L1718.66 970.66L1719.11 967.12L1719.56 964.26L1720.02 958.26L1720.47 957.28L1720.93 962.39L1721.38 965.76L1721.83 959L1722.29 943.94L1722.74 932.66L1723.19 920.15L1723.65 911.88L1724.1 908.84L1724.56 912.42L1725.01 916.22L1725.46 918.71L1725.92 914.88L1726.37 909.08L1726.83 905.12L1727.28 907.21L1727.73 914.54L1728.19 920.93L1728.64 922.29L1729.1 917.54L1729.55 909.8L1730 902.46L1730.46 896.74L1730.91 891.6L1731.36 887.3L1731.82 882.29L1732.27 877.59L1732.73 873.27L1733.18 868.84L1733.63 863.11L1734.09 855.01L1734.54 845.83L1735 838.08L1735.45 830.54L1735.9 823.71L1736.36 816.86L1736.81 810.56L1737.27 804.13L1737.72 796.02L1738.17 785.94L1738.63 775.36L1739.08 764.82L1739.53 754.22L1739.99 744.25L1740.44 733.44L1740.9 723.22L1741.35 711.73L1741.8 701.04L1742.26 690.38L1742.71 679.19L1743.17 667.96L1743.62 657.06L1744.07 646.31L1744.53 635.32L1744.98 624.02L1745.43 612.81L1745.89 601.02L1746.34 588.47L1746.8 575.46L1747.25 562.4L1747.7 550.01L1748.16 538.29L1748.61 526.93L1749.07 516.2L1749.52 505.33L1749.97 494.24L1750.43 483.07L1750.88 471.52L1751.34 458.61L1751.79 444.6L1752.24 427.09L1752.7 408.58L1753.15 390.59L1753.6 375.07L1754.06 362.6L1754.51 351.97L1754.97 340.92L1755.42 328.25L1755.87 315.34L1756.33 300.22L1756.78 289.8L1757.24 284.5L1757.69 279.1L1758.14 272.69L1758.6 264.73L1759.05 255.73L1759.5 246.34L1759.96 236.12L1760.41 224.36L1760.87 216L1761.32 210.87L1761.77 206.33L1762.23 200.49L1762.68 190.57L1763.14 171.24L1763.59 161.97L1764.04 156.29L1764.5 151.62L1764.95 144.5L1765.41 136.94L1765.86 133.21L1766.31 132.45L1766.77 132.12L1767.22 131.84L1767.67 131.05L1768.13 130.26L1768.58 128.63L1769.04 125.77L1769.49 123.51L1769.94 120.94L1770.4 118.56L1770.85 117.6L1771.31 116.5L1771.76 115.78L1772.21 115.42L1772.67 115.06L1773.12 114.13L1773.58 114.27L1774.03 114.02L1774.48 113.82L1774.94 113.68L1775.39 113.46L1775.84 113.61L1776.3 113.33L1776.75 113.2L1777.21 113.27L1777.66 113.14L1778.11 113.02L1778.57 112.97L1779.02 113.19L1779.48 112.98L1779.93 112.9L1780.38 112.9L1780.84 112.9L1781.29 112.9L1781.74 112.92L1782.2 112.94L1782.65 112.9L1783.11 112.9L1783.56 113L1784.01 112.93L1784.47 112.9L1784.92 113.1L1785.38 112.9L1785.83 112.9L1786.28 112.9L1786.74 112.9L1787.19 113.05L1787.65 113.08L1788.1 112.93L1788.55 112.9L1789.01 112.9L1789.46 112.9L1789.91 112.9L1790.37 112.9L1790.82 112.92L1791.28 112.99L1791.73 112.9L1792.18 112.97L1792.64 112.9L1793.09 112.9L1793.55 112.9L1794 113.06L1794.45 113.04L1794.91 112.9L1795.36 113.07L1795.82 112.9L1796.27 113.11L1796.72 112.97L1797.18 112.9L1797.63 113.01L1798.08 112.9L1798.54 112.9L1798.99 112.9L1799.45 112.93L1799.9 112.9"/>
</g>
<g class="t">
<path d="M349.5 1178.5V1193.5"/>
<path d="M508.5 1178.5V1193.5"/>
<path d="M668.5 1178.5V1193.5"/>
<path d="M827.5 1178.5V1193.5"/>
<path d="M987.5 1178.5V1193.5"/>
<path d="M1146.5 1178.5V1193.5"/>
<path d="M1306.5 1178.5V1193.5"/>
<path d="M1465.5 1178.5V1193.5"/>
<path d="M1625.5 1178.5V1193.5"/>
<path d="M1784.5 1178.5V1193.5"/>
</g><g class="m">
<path d="M319.5 965.5H311.25"/>
<path d="M319.5 769.5H311.25"/>
<path d="M319.5 600.5H311.25"/>
<path d="M319.5 450.5H311.25"/>
<path d="M319.5 317.5H311.25"/>
<path d="M319.5 196.5H311.25"/>
</g>
<g class="s"><path d="M319.5 1178.5V112.5"/><path d="M1800.5 1178.5V112.5"/><path d="M319.5 1178.5H1800.5"/><path d="M319.5 112.5H1800.5"/></g>
<text transform="translate(272.83 1328.35) rotate(-30)">05-24 02</text>
<text transform="translate(432.31 1328.35) rotate(-30)">05-24 03</text>
<text transform="translate(591.78 1328.35) rotate(-30)">05-24 04</text>
<text transform="translate(751.26 1328.35) rotate(-30)">05-24 05</text>
<text transform="translate(910.73 1328.35) rotate(-30)">05-24 06</text>
<text transform="translate(1070.21 1328.35) rotate(-30)">05-24 07</text>
<text transform="translate(1229.69 1328.35) rotate(-30)">05-24 08</text>
<text transform="translate(1389.16 1328.35) rotate(-30)">05-24 09</text>
<text transform="translate(1548.64 1328.35) rotate(-30)">05-24 10</text>
<text transform="translate(1708.11 1328.35) rotate(-30)">05-24 11</text>
<text x="1060" y="1386.6" text-anchor="middle">Time</text>
<text><tspan x="110.77 137.28 148.44" y="980.03">1.2</tspan><tspan x="183.06" y="980.03">×</tspan><tspan x="226.09 252.6" y="980.03">10</tspan><tspan x="279.51" y="964.08" class="sup">8</tspan></text>
<text><tspan x="108.27 134.78 148.02" y="785.58">1.4</tspan><tspan x="182.65" y="785.58">×</tspan><tspan x="225.68 252.19" y="785.58">10</tspan><tspan x="279.1" y="769.63" class="sup">8</tspan></text>
<text><tspan x="108.27 134.78 148.02" y="615.4">1.6</tspan><tspan x="182.65" y="615.4">×</tspan><tspan x="225.68 252.19" y="615.4">10</tspan><tspan x="279.1" y="599.45" class="sup">8</tspan></text>
<text><tspan x="109.52 136.03 148.23" y="466.71">1.8</tspan><tspan x="182.86" y="466.71">×</tspan><tspan x="225.89 252.4" y="466.71">10</tspan><tspan x="279.3" y="450.76" class="sup">8</tspan></text>
<text><tspan x="148.27" y="332.48">2</tspan><tspan x="182.89" y="332.48">×</tspan><tspan x="225.92 252.43" y="332.48">10</tspan><tspan x="279.34" y="316.53" class="sup">8</tspan></text>
<text><tspan x="110.77 137.28 148.44" y="211.55">2.2</tspan><tspan x="183.06" y="211.55">×</tspan><tspan x="226.09 252.6" y="211.55">10</tspan><tspan x="279.51" y="195.6" class="sup">8</tspan></text>
<text transform="translate(82.05 646.15) rotate(-90)" text-anchor="middle">ADU</text>
<text x="1059.75" y="87.45" text-anchor="middle" style="font-size:50px;letter-spacing:-0.0188px">Peak field sums for US004A_20250524_014851_399679</text>
<path d="M907.29 271.35H1211.51Q1219.84 271.35 1219.84 263.02V141.51Q1219.84 133.18 1211.51 133.18H907.29Q898.96 133.18 898.96 141.51V263.02Q898.96 271.35 907.29 271.35Z" fill="#fff" stroke="#ccc" stroke-width="4.167" opacity="0.8"/>
<path class="c" stroke="#f00" d="M915.63 168H998.96"/><path class="c" stroke="#000" d="M915.63 231H998.96"/>
<text x="1032.8" y="182.9">Peak</text><text x="1032.8" y="245.2">Average</text>
</svg></body></html>
